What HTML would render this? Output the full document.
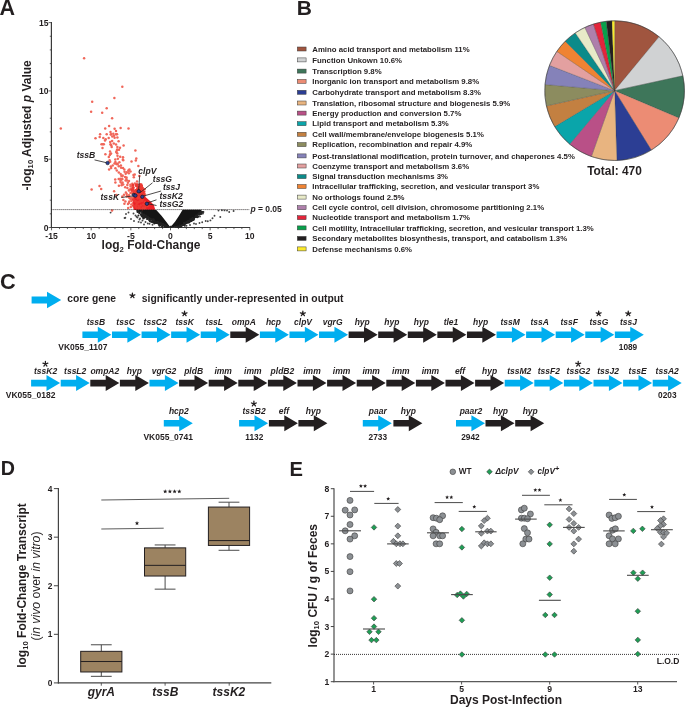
<!DOCTYPE html>
<html><head><meta charset="utf-8"><style>
html,body{margin:0;padding:0;background:#fff;width:685px;height:707px;overflow:hidden}
svg{display:block;will-change:transform}
text{font-family:"Liberation Sans",sans-serif}
</style></head><body>
<svg width="685" height="707" viewBox="0 0 685 707">
<rect width="685" height="707" fill="#fff"/>
<text x="-0.60" y="14.70" font-size="21.5" font-weight="bold" font-style="normal" text-anchor="start" fill="#231f20" >A</text>
<text x="296.80" y="14.60" font-size="21" font-weight="bold" font-style="normal" text-anchor="start" fill="#231f20" >B</text>
<text x="-0.10" y="289.30" font-size="21.8" font-weight="bold" font-style="normal" text-anchor="start" fill="#231f20" >C</text>
<text x="0.80" y="475.40" font-size="19.7" font-weight="bold" font-style="normal" text-anchor="start" fill="#231f20" >D</text>
<text x="289.40" y="475.70" font-size="20.2" font-weight="bold" font-style="normal" text-anchor="start" fill="#231f20" >E</text>
<line x1="51.40" y1="22.10" x2="51.40" y2="228.10" stroke="#3a3a3a" stroke-width="1.2" />
<line x1="50.80" y1="227.50" x2="250.10" y2="227.50" stroke="#3a3a3a" stroke-width="1.2" />
<line x1="48.60" y1="227.50" x2="51.40" y2="227.50" stroke="#3a3a3a" stroke-width="0.8" />
<line x1="49.80" y1="213.84" x2="51.40" y2="213.84" stroke="#3a3a3a" stroke-width="0.8" />
<line x1="49.80" y1="200.18" x2="51.40" y2="200.18" stroke="#3a3a3a" stroke-width="0.8" />
<line x1="49.80" y1="186.52" x2="51.40" y2="186.52" stroke="#3a3a3a" stroke-width="0.8" />
<line x1="49.80" y1="172.86" x2="51.40" y2="172.86" stroke="#3a3a3a" stroke-width="0.8" />
<line x1="48.60" y1="159.20" x2="51.40" y2="159.20" stroke="#3a3a3a" stroke-width="0.8" />
<line x1="49.80" y1="145.54" x2="51.40" y2="145.54" stroke="#3a3a3a" stroke-width="0.8" />
<line x1="49.80" y1="131.88" x2="51.40" y2="131.88" stroke="#3a3a3a" stroke-width="0.8" />
<line x1="49.80" y1="118.22" x2="51.40" y2="118.22" stroke="#3a3a3a" stroke-width="0.8" />
<line x1="49.80" y1="104.56" x2="51.40" y2="104.56" stroke="#3a3a3a" stroke-width="0.8" />
<line x1="48.60" y1="90.90" x2="51.40" y2="90.90" stroke="#3a3a3a" stroke-width="0.8" />
<line x1="49.80" y1="77.24" x2="51.40" y2="77.24" stroke="#3a3a3a" stroke-width="0.8" />
<line x1="49.80" y1="63.58" x2="51.40" y2="63.58" stroke="#3a3a3a" stroke-width="0.8" />
<line x1="49.80" y1="49.92" x2="51.40" y2="49.92" stroke="#3a3a3a" stroke-width="0.8" />
<line x1="49.80" y1="36.26" x2="51.40" y2="36.26" stroke="#3a3a3a" stroke-width="0.8" />
<line x1="48.60" y1="22.60" x2="51.40" y2="22.60" stroke="#3a3a3a" stroke-width="0.8" />
<line x1="51.55" y1="227.50" x2="51.55" y2="230.30" stroke="#3a3a3a" stroke-width="0.8" />
<line x1="59.48" y1="227.50" x2="59.48" y2="229.10" stroke="#3a3a3a" stroke-width="0.8" />
<line x1="67.41" y1="227.50" x2="67.41" y2="229.10" stroke="#3a3a3a" stroke-width="0.8" />
<line x1="75.34" y1="227.50" x2="75.34" y2="229.10" stroke="#3a3a3a" stroke-width="0.8" />
<line x1="83.27" y1="227.50" x2="83.27" y2="229.10" stroke="#3a3a3a" stroke-width="0.8" />
<line x1="91.20" y1="227.50" x2="91.20" y2="230.30" stroke="#3a3a3a" stroke-width="0.8" />
<line x1="99.13" y1="227.50" x2="99.13" y2="229.10" stroke="#3a3a3a" stroke-width="0.8" />
<line x1="107.06" y1="227.50" x2="107.06" y2="229.10" stroke="#3a3a3a" stroke-width="0.8" />
<line x1="114.99" y1="227.50" x2="114.99" y2="229.10" stroke="#3a3a3a" stroke-width="0.8" />
<line x1="122.92" y1="227.50" x2="122.92" y2="229.10" stroke="#3a3a3a" stroke-width="0.8" />
<line x1="130.85" y1="227.50" x2="130.85" y2="230.30" stroke="#3a3a3a" stroke-width="0.8" />
<line x1="138.78" y1="227.50" x2="138.78" y2="229.10" stroke="#3a3a3a" stroke-width="0.8" />
<line x1="146.71" y1="227.50" x2="146.71" y2="229.10" stroke="#3a3a3a" stroke-width="0.8" />
<line x1="154.64" y1="227.50" x2="154.64" y2="229.10" stroke="#3a3a3a" stroke-width="0.8" />
<line x1="162.57" y1="227.50" x2="162.57" y2="229.10" stroke="#3a3a3a" stroke-width="0.8" />
<line x1="170.50" y1="227.50" x2="170.50" y2="230.30" stroke="#3a3a3a" stroke-width="0.8" />
<line x1="178.43" y1="227.50" x2="178.43" y2="229.10" stroke="#3a3a3a" stroke-width="0.8" />
<line x1="186.36" y1="227.50" x2="186.36" y2="229.10" stroke="#3a3a3a" stroke-width="0.8" />
<line x1="194.29" y1="227.50" x2="194.29" y2="229.10" stroke="#3a3a3a" stroke-width="0.8" />
<line x1="202.22" y1="227.50" x2="202.22" y2="229.10" stroke="#3a3a3a" stroke-width="0.8" />
<line x1="210.15" y1="227.50" x2="210.15" y2="230.30" stroke="#3a3a3a" stroke-width="0.8" />
<line x1="218.08" y1="227.50" x2="218.08" y2="229.10" stroke="#3a3a3a" stroke-width="0.8" />
<line x1="226.01" y1="227.50" x2="226.01" y2="229.10" stroke="#3a3a3a" stroke-width="0.8" />
<line x1="233.94" y1="227.50" x2="233.94" y2="229.10" stroke="#3a3a3a" stroke-width="0.8" />
<line x1="241.87" y1="227.50" x2="241.87" y2="229.10" stroke="#3a3a3a" stroke-width="0.8" />
<line x1="249.80" y1="227.50" x2="249.80" y2="230.30" stroke="#3a3a3a" stroke-width="0.8" />
<text x="48.50" y="230.50" font-size="8.6" font-weight="bold" font-style="normal" text-anchor="end" fill="#231f20" >0</text>
<text x="48.50" y="162.20" font-size="8.6" font-weight="bold" font-style="normal" text-anchor="end" fill="#231f20" >5</text>
<text x="48.50" y="93.90" font-size="8.6" font-weight="bold" font-style="normal" text-anchor="end" fill="#231f20" >10</text>
<text x="48.50" y="25.60" font-size="8.6" font-weight="bold" font-style="normal" text-anchor="end" fill="#231f20" >15</text>
<text x="51.55" y="238.80" font-size="8.6" font-weight="bold" font-style="normal" text-anchor="middle" fill="#231f20" >-15</text>
<text x="91.20" y="238.80" font-size="8.6" font-weight="bold" font-style="normal" text-anchor="middle" fill="#231f20" >10</text>
<text x="130.85" y="238.80" font-size="8.6" font-weight="bold" font-style="normal" text-anchor="middle" fill="#231f20" >-5</text>
<text x="170.50" y="238.80" font-size="8.6" font-weight="bold" font-style="normal" text-anchor="middle" fill="#231f20" >0</text>
<text x="210.15" y="238.80" font-size="8.6" font-weight="bold" font-style="normal" text-anchor="middle" fill="#231f20" >5</text>
<text x="249.80" y="238.80" font-size="8.6" font-weight="bold" font-style="normal" text-anchor="middle" fill="#231f20" >10</text>
<text x="101.6" y="249.1" font-size="12" font-weight="bold" fill="#231f20">log<tspan font-size="7.7" dy="2.6">2</tspan><tspan dy="-2.6"> Fold-Change</tspan></text>
<text transform="translate(30.8,190.4) rotate(-90)" x="0" y="0" font-size="12" font-weight="bold" fill="#231f20">-log<tspan font-size="7.7" dy="2.6">10</tspan><tspan dy="-2.6"> Adjusted </tspan><tspan font-style="italic">p</tspan> Value</text>
<text x="250.4" y="211.8" font-size="8.5" font-weight="bold" fill="#231f20"><tspan font-style="italic">p</tspan> = 0.05</text>
<rect x="297.3" y="47.00" width="8.8" height="4" fill="#a0553f" stroke="#3a3a3a" stroke-width="0.5"/>
<text x="312.30" y="51.70" font-size="7.8" font-weight="bold" font-style="normal" text-anchor="start" fill="#231f20" >Amino acid transport and metabolism 11%</text>
<rect x="297.3" y="57.90" width="8.8" height="4" fill="#d0d2d3" stroke="#3a3a3a" stroke-width="0.5"/>
<text x="312.30" y="62.60" font-size="7.8" font-weight="bold" font-style="normal" text-anchor="start" fill="#231f20" >Function Unkown 10.6%</text>
<rect x="297.3" y="69.10" width="8.8" height="4" fill="#3e765a" stroke="#3a3a3a" stroke-width="0.5"/>
<text x="312.30" y="73.80" font-size="7.8" font-weight="bold" font-style="normal" text-anchor="start" fill="#231f20" >Transcription 9.8%</text>
<rect x="297.3" y="79.40" width="8.8" height="4" fill="#ec8c74" stroke="#3a3a3a" stroke-width="0.5"/>
<text x="312.30" y="84.10" font-size="7.8" font-weight="bold" font-style="normal" text-anchor="start" fill="#231f20" >Inorganic ion transport and metabolism 9.8%</text>
<rect x="297.3" y="90.30" width="8.8" height="4" fill="#2c3e94" stroke="#3a3a3a" stroke-width="0.5"/>
<text x="312.30" y="95.00" font-size="7.8" font-weight="bold" font-style="normal" text-anchor="start" fill="#231f20" >Carbohydrate transport and metabolism 8.3%</text>
<rect x="297.3" y="101.00" width="8.8" height="4" fill="#e8b480" stroke="#3a3a3a" stroke-width="0.5"/>
<text x="312.30" y="105.70" font-size="7.8" font-weight="bold" font-style="normal" text-anchor="start" fill="#231f20" >Translation, ribosomal structure and biogenesis 5.9%</text>
<rect x="297.3" y="111.10" width="8.8" height="4" fill="#b95087" stroke="#3a3a3a" stroke-width="0.5"/>
<text x="312.30" y="115.80" font-size="7.8" font-weight="bold" font-style="normal" text-anchor="start" fill="#231f20" >Energy production and conversion 5.7%</text>
<rect x="297.3" y="121.70" width="8.8" height="4" fill="#0aa5aa" stroke="#3a3a3a" stroke-width="0.5"/>
<text x="312.30" y="126.40" font-size="7.8" font-weight="bold" font-style="normal" text-anchor="start" fill="#231f20" >Lipid transport and metabolism 5.3%</text>
<rect x="297.3" y="132.30" width="8.8" height="4" fill="#c38041" stroke="#3a3a3a" stroke-width="0.5"/>
<text x="312.30" y="137.00" font-size="7.8" font-weight="bold" font-style="normal" text-anchor="start" fill="#231f20" >Cell wall/membrane/envelope biogenesis 5.1%</text>
<rect x="297.3" y="142.60" width="8.8" height="4" fill="#8c8c5f" stroke="#3a3a3a" stroke-width="0.5"/>
<text x="312.30" y="147.30" font-size="7.8" font-weight="bold" font-style="normal" text-anchor="start" fill="#231f20" >Replication, recombination and repair 4.9%</text>
<rect x="297.3" y="153.90" width="8.8" height="4" fill="#8582b9" stroke="#3a3a3a" stroke-width="0.5"/>
<text x="312.30" y="158.60" font-size="7.8" font-weight="bold" font-style="normal" text-anchor="start" fill="#231f20" >Post-translational modification, protein turnover, and chaperones 4.5%</text>
<rect x="297.3" y="164.00" width="8.8" height="4" fill="#e3a0a0" stroke="#3a3a3a" stroke-width="0.5"/>
<text x="312.30" y="168.70" font-size="7.8" font-weight="bold" font-style="normal" text-anchor="start" fill="#231f20" >Coenzyme transport and metabolism 3.6%</text>
<rect x="297.3" y="174.60" width="8.8" height="4" fill="#0b8b8a" stroke="#3a3a3a" stroke-width="0.5"/>
<text x="312.30" y="179.30" font-size="7.8" font-weight="bold" font-style="normal" text-anchor="start" fill="#231f20" >Signal transduction mechanisms 3%</text>
<rect x="297.3" y="184.50" width="8.8" height="4" fill="#ef8333" stroke="#3a3a3a" stroke-width="0.5"/>
<text x="312.30" y="189.20" font-size="7.8" font-weight="bold" font-style="normal" text-anchor="start" fill="#231f20" >Intracellular trafficking, secretion, and vesicular transport 3%</text>
<rect x="297.3" y="195.10" width="8.8" height="4" fill="#e8eac8" stroke="#3a3a3a" stroke-width="0.5"/>
<text x="312.30" y="199.80" font-size="7.8" font-weight="bold" font-style="normal" text-anchor="start" fill="#231f20" >No orthologs found 2.5%</text>
<rect x="297.3" y="205.70" width="8.8" height="4" fill="#ae7fab" stroke="#3a3a3a" stroke-width="0.5"/>
<text x="312.30" y="210.40" font-size="7.8" font-weight="bold" font-style="normal" text-anchor="start" fill="#231f20" >Cell cycle control, cell division, chromosome partitioning 2.1%</text>
<rect x="297.3" y="215.70" width="8.8" height="4" fill="#e3243b" stroke="#3a3a3a" stroke-width="0.5"/>
<text x="312.30" y="220.40" font-size="7.8" font-weight="bold" font-style="normal" text-anchor="start" fill="#231f20" >Nucleotide transport and metabolism 1.7%</text>
<rect x="297.3" y="225.90" width="8.8" height="4" fill="#08a04b" stroke="#3a3a3a" stroke-width="0.5"/>
<text x="312.30" y="230.60" font-size="7.8" font-weight="bold" font-style="normal" text-anchor="start" fill="#231f20" >Cell motility, Intracellular trafficking, secretion, and vesicular transport 1.3%</text>
<rect x="297.3" y="236.40" width="8.8" height="4" fill="#231f20" stroke="#3a3a3a" stroke-width="0.5"/>
<text x="312.30" y="241.10" font-size="7.8" font-weight="bold" font-style="normal" text-anchor="start" fill="#231f20" >Secondary metabolites biosynthesis, transport, and catabolism 1.3%</text>
<rect x="297.3" y="246.90" width="8.8" height="4" fill="#fbe92a" stroke="#3a3a3a" stroke-width="0.5"/>
<text x="312.30" y="251.60" font-size="7.8" font-weight="bold" font-style="normal" text-anchor="start" fill="#231f20" >Defense mechanisms 0.6%</text>
<path d="M614.6,90.65 L614.60,20.80 A69.85,69.85 0 0 1 659.12,36.83 Z" fill="#a0553f" stroke="#3a3a3a" stroke-width="0.25"/>
<path d="M614.6,90.65 L659.12,36.83 A69.85,69.85 0 0 1 682.86,75.84 Z" fill="#d0d2d3" stroke="#3a3a3a" stroke-width="0.25"/>
<path d="M614.6,90.65 L682.86,75.84 A69.85,69.85 0 0 1 678.88,117.99 Z" fill="#3e765a" stroke="#3a3a3a" stroke-width="0.25"/>
<path d="M614.6,90.65 L678.88,117.99 A69.85,69.85 0 0 1 651.28,150.09 Z" fill="#ec8c74" stroke="#3a3a3a" stroke-width="0.25"/>
<path d="M614.6,90.65 L651.28,150.09 A69.85,69.85 0 0 1 616.79,160.47 Z" fill="#2c3e94" stroke="#3a3a3a" stroke-width="0.25"/>
<path d="M614.6,90.65 L616.79,160.47 A69.85,69.85 0 0 1 591.35,156.52 Z" fill="#e8b480" stroke="#3a3a3a" stroke-width="0.25"/>
<path d="M614.6,90.65 L591.35,156.52 A69.85,69.85 0 0 1 569.74,144.19 Z" fill="#b95087" stroke="#3a3a3a" stroke-width="0.25"/>
<path d="M614.6,90.65 L569.74,144.19 A69.85,69.85 0 0 1 554.70,126.58 Z" fill="#0aa5aa" stroke="#3a3a3a" stroke-width="0.25"/>
<path d="M614.6,90.65 L554.70,126.58 A69.85,69.85 0 0 1 546.43,105.89 Z" fill="#c38041" stroke="#3a3a3a" stroke-width="0.25"/>
<path d="M614.6,90.65 L546.43,105.89 A69.85,69.85 0 0 1 545.02,84.51 Z" fill="#8c8c5f" stroke="#3a3a3a" stroke-width="0.25"/>
<path d="M614.6,90.65 L545.02,84.51 A69.85,69.85 0 0 1 549.49,65.35 Z" fill="#8582b9" stroke="#3a3a3a" stroke-width="0.25"/>
<path d="M614.6,90.65 L549.49,65.35 A69.85,69.85 0 0 1 556.83,51.39 Z" fill="#e3a0a0" stroke="#3a3a3a" stroke-width="0.25"/>
<path d="M614.6,90.65 L556.83,51.39 A69.85,69.85 0 0 1 565.21,41.26 Z" fill="#ef8333" stroke="#3a3a3a" stroke-width="0.25"/>
<path d="M614.6,90.65 L565.21,41.26 A69.85,69.85 0 0 1 575.34,32.88 Z" fill="#0b8b8a" stroke="#3a3a3a" stroke-width="0.25"/>
<path d="M614.6,90.65 L575.34,32.88 A69.85,69.85 0 0 1 584.86,27.45 Z" fill="#e8eac8" stroke="#3a3a3a" stroke-width="0.25"/>
<path d="M614.6,90.65 L584.86,27.45 A69.85,69.85 0 0 1 593.43,24.08 Z" fill="#ae7fab" stroke="#3a3a3a" stroke-width="0.25"/>
<path d="M614.6,90.65 L593.43,24.08 A69.85,69.85 0 0 1 600.65,22.21 Z" fill="#e3243b" stroke="#3a3a3a" stroke-width="0.25"/>
<path d="M614.6,90.65 L600.65,22.21 A69.85,69.85 0 0 1 606.28,21.30 Z" fill="#08a04b" stroke="#3a3a3a" stroke-width="0.25"/>
<path d="M614.6,90.65 L606.28,21.30 A69.85,69.85 0 0 1 611.97,20.85 Z" fill="#231f20" stroke="#3a3a3a" stroke-width="0.25"/>
<path d="M614.6,90.65 L611.97,20.85 A69.85,69.85 0 0 1 614.60,20.80 Z" fill="#fbe92a" stroke="#3a3a3a" stroke-width="0.25"/>
<circle cx="614.6" cy="90.65" r="69.85" fill="none" stroke="#3a3a3a" stroke-width="0.6"/>
<text x="614.50" y="174.60" font-size="11.9" font-weight="bold" font-style="normal" text-anchor="middle" fill="#231f20" >Total: 470</text>
<path d="M31.60,296.50 L47.00,296.50 L47.00,291.80 L61.20,300.00 L47.00,308.20 L47.00,303.50 L31.60,303.50 Z" fill="#00aeef"/>
<text x="67.30" y="301.80" font-size="10.3" font-weight="bold" font-style="normal" text-anchor="start" fill="#231f20" >core gene</text>
<path d="M132.40,295.60 L132.40,293.00 M132.40,295.60 L134.87,294.80 M132.40,295.60 L133.93,297.70 M132.40,295.60 L130.87,297.70 M132.40,295.60 L129.93,294.80 " stroke="#231f20" stroke-width="1.25" stroke-linecap="round" fill="none"/>
<text x="141.80" y="301.80" font-size="10.35" font-weight="bold" font-style="normal" text-anchor="start" fill="#231f20" >significantly under-represented in output</text>
<path d="M82.40,331.40 L97.80,331.40 L97.80,326.70 L111.40,334.70 L97.80,342.70 L97.80,338.00 L82.40,338.00 Z" fill="#00aeef"/>
<text x="96.00" y="324.70" font-size="8.5" font-weight="bold" font-style="italic" text-anchor="middle" fill="#231f20">tssB</text>
<path d="M111.98,331.40 L127.38,331.40 L127.38,326.70 L140.98,334.70 L127.38,342.70 L127.38,338.00 L111.98,338.00 Z" fill="#00aeef"/>
<text x="125.58" y="324.70" font-size="8.5" font-weight="bold" font-style="italic" text-anchor="middle" fill="#231f20">tssC</text>
<path d="M141.56,331.40 L156.96,331.40 L156.96,326.70 L170.56,334.70 L156.96,342.70 L156.96,338.00 L141.56,338.00 Z" fill="#00aeef"/>
<text x="155.16" y="324.70" font-size="8.5" font-weight="bold" font-style="italic" text-anchor="middle" fill="#231f20">tssC2</text>
<path d="M171.14,331.40 L186.54,331.40 L186.54,326.70 L200.14,334.70 L186.54,342.70 L186.54,338.00 L171.14,338.00 Z" fill="#00aeef"/>
<text x="184.74" y="324.70" font-size="8.5" font-weight="bold" font-style="italic" text-anchor="middle" fill="#231f20">tssK</text>
<path d="M184.54,313.60 L184.54,311.00 M184.54,313.60 L187.01,312.80 M184.54,313.60 L186.07,315.70 M184.54,313.60 L183.01,315.70 M184.54,313.60 L182.07,312.80 " stroke="#231f20" stroke-width="1.25" stroke-linecap="round" fill="none"/>
<path d="M200.72,331.40 L216.12,331.40 L216.12,326.70 L229.72,334.70 L216.12,342.70 L216.12,338.00 L200.72,338.00 Z" fill="#00aeef"/>
<text x="214.32" y="324.70" font-size="8.5" font-weight="bold" font-style="italic" text-anchor="middle" fill="#231f20">tssL</text>
<path d="M230.30,331.40 L245.70,331.40 L245.70,326.70 L259.30,334.70 L245.70,342.70 L245.70,338.00 L230.30,338.00 Z" fill="#231f20"/>
<text x="243.90" y="324.70" font-size="8.5" font-weight="bold" font-style="italic" text-anchor="middle" fill="#231f20">ompA</text>
<path d="M259.88,331.40 L275.28,331.40 L275.28,326.70 L288.88,334.70 L275.28,342.70 L275.28,338.00 L259.88,338.00 Z" fill="#00aeef"/>
<text x="273.48" y="324.70" font-size="8.5" font-weight="bold" font-style="italic" text-anchor="middle" fill="#231f20">hcp</text>
<path d="M289.46,331.40 L304.86,331.40 L304.86,326.70 L318.46,334.70 L304.86,342.70 L304.86,338.00 L289.46,338.00 Z" fill="#00aeef"/>
<text x="303.06" y="324.70" font-size="8.5" font-weight="bold" font-style="italic" text-anchor="middle" fill="#231f20">clpV</text>
<path d="M302.86,313.60 L302.86,311.00 M302.86,313.60 L305.33,312.80 M302.86,313.60 L304.39,315.70 M302.86,313.60 L301.33,315.70 M302.86,313.60 L300.39,312.80 " stroke="#231f20" stroke-width="1.25" stroke-linecap="round" fill="none"/>
<path d="M319.04,331.40 L334.44,331.40 L334.44,326.70 L348.04,334.70 L334.44,342.70 L334.44,338.00 L319.04,338.00 Z" fill="#00aeef"/>
<text x="332.64" y="324.70" font-size="8.5" font-weight="bold" font-style="italic" text-anchor="middle" fill="#231f20">vgrG</text>
<path d="M348.62,331.40 L364.02,331.40 L364.02,326.70 L377.62,334.70 L364.02,342.70 L364.02,338.00 L348.62,338.00 Z" fill="#231f20"/>
<text x="362.22" y="324.70" font-size="8.5" font-weight="bold" font-style="italic" text-anchor="middle" fill="#231f20">hyp</text>
<path d="M378.20,331.40 L393.60,331.40 L393.60,326.70 L407.20,334.70 L393.60,342.70 L393.60,338.00 L378.20,338.00 Z" fill="#231f20"/>
<text x="391.80" y="324.70" font-size="8.5" font-weight="bold" font-style="italic" text-anchor="middle" fill="#231f20">hyp</text>
<path d="M407.78,331.40 L423.18,331.40 L423.18,326.70 L436.78,334.70 L423.18,342.70 L423.18,338.00 L407.78,338.00 Z" fill="#231f20"/>
<text x="421.38" y="324.70" font-size="8.5" font-weight="bold" font-style="italic" text-anchor="middle" fill="#231f20">hyp</text>
<path d="M437.36,331.40 L452.76,331.40 L452.76,326.70 L466.36,334.70 L452.76,342.70 L452.76,338.00 L437.36,338.00 Z" fill="#231f20"/>
<text x="450.96" y="324.70" font-size="8.5" font-weight="bold" font-style="italic" text-anchor="middle" fill="#231f20">tle1</text>
<path d="M466.94,331.40 L482.34,331.40 L482.34,326.70 L495.94,334.70 L482.34,342.70 L482.34,338.00 L466.94,338.00 Z" fill="#231f20"/>
<text x="480.54" y="324.70" font-size="8.5" font-weight="bold" font-style="italic" text-anchor="middle" fill="#231f20">hyp</text>
<path d="M496.52,331.40 L511.92,331.40 L511.92,326.70 L525.52,334.70 L511.92,342.70 L511.92,338.00 L496.52,338.00 Z" fill="#00aeef"/>
<text x="510.12" y="324.70" font-size="8.5" font-weight="bold" font-style="italic" text-anchor="middle" fill="#231f20">tssM</text>
<path d="M526.10,331.40 L541.50,331.40 L541.50,326.70 L555.10,334.70 L541.50,342.70 L541.50,338.00 L526.10,338.00 Z" fill="#00aeef"/>
<text x="539.70" y="324.70" font-size="8.5" font-weight="bold" font-style="italic" text-anchor="middle" fill="#231f20">tssA</text>
<path d="M555.68,331.40 L571.08,331.40 L571.08,326.70 L584.68,334.70 L571.08,342.70 L571.08,338.00 L555.68,338.00 Z" fill="#00aeef"/>
<text x="569.28" y="324.70" font-size="8.5" font-weight="bold" font-style="italic" text-anchor="middle" fill="#231f20">tssF</text>
<path d="M585.26,331.40 L600.66,331.40 L600.66,326.70 L614.26,334.70 L600.66,342.70 L600.66,338.00 L585.26,338.00 Z" fill="#00aeef"/>
<text x="598.86" y="324.70" font-size="8.5" font-weight="bold" font-style="italic" text-anchor="middle" fill="#231f20">tssG</text>
<path d="M598.66,313.60 L598.66,311.00 M598.66,313.60 L601.13,312.80 M598.66,313.60 L600.19,315.70 M598.66,313.60 L597.13,315.70 M598.66,313.60 L596.19,312.80 " stroke="#231f20" stroke-width="1.25" stroke-linecap="round" fill="none"/>
<path d="M614.84,331.40 L630.24,331.40 L630.24,326.70 L643.84,334.70 L630.24,342.70 L630.24,338.00 L614.84,338.00 Z" fill="#00aeef"/>
<text x="628.44" y="324.70" font-size="8.5" font-weight="bold" font-style="italic" text-anchor="middle" fill="#231f20">tssJ</text>
<path d="M628.24,313.60 L628.24,311.00 M628.24,313.60 L630.71,312.80 M628.24,313.60 L629.77,315.70 M628.24,313.60 L626.71,315.70 M628.24,313.60 L625.77,312.80 " stroke="#231f20" stroke-width="1.25" stroke-linecap="round" fill="none"/>
<text x="58.30" y="349.90" font-size="8.5" font-weight="bold" font-style="normal" text-anchor="start" fill="#231f20" >VK055_1107</text>
<text x="628.00" y="349.70" font-size="8.3" font-weight="bold" font-style="normal" text-anchor="middle" fill="#231f20" >1089</text>
<path d="M31.10,379.80 L46.50,379.80 L46.50,375.10 L60.10,383.10 L46.50,391.10 L46.50,386.40 L31.10,386.40 Z" fill="#00aeef"/>
<text x="45.60" y="373.80" font-size="8.5" font-weight="bold" font-style="italic" text-anchor="middle" fill="#231f20">tssK2</text>
<path d="M45.40,364.00 L45.40,361.40 M45.40,364.00 L47.87,363.20 M45.40,364.00 L46.93,366.10 M45.40,364.00 L43.87,366.10 M45.40,364.00 L42.93,363.20 " stroke="#231f20" stroke-width="1.25" stroke-linecap="round" fill="none"/>
<path d="M60.70,379.80 L76.10,379.80 L76.10,375.10 L89.70,383.10 L76.10,391.10 L76.10,386.40 L60.70,386.40 Z" fill="#00aeef"/>
<text x="75.20" y="373.80" font-size="8.5" font-weight="bold" font-style="italic" text-anchor="middle" fill="#231f20">tssL2</text>
<path d="M90.30,379.80 L105.70,379.80 L105.70,375.10 L119.30,383.10 L105.70,391.10 L105.70,386.40 L90.30,386.40 Z" fill="#231f20"/>
<text x="104.80" y="373.80" font-size="8.5" font-weight="bold" font-style="italic" text-anchor="middle" fill="#231f20">ompA2</text>
<path d="M119.90,379.80 L135.30,379.80 L135.30,375.10 L148.90,383.10 L135.30,391.10 L135.30,386.40 L119.90,386.40 Z" fill="#231f20"/>
<text x="134.40" y="373.80" font-size="8.5" font-weight="bold" font-style="italic" text-anchor="middle" fill="#231f20">hyp</text>
<path d="M149.50,379.80 L164.90,379.80 L164.90,375.10 L178.50,383.10 L164.90,391.10 L164.90,386.40 L149.50,386.40 Z" fill="#00aeef"/>
<text x="164.00" y="373.80" font-size="8.5" font-weight="bold" font-style="italic" text-anchor="middle" fill="#231f20">vgrG2</text>
<path d="M179.10,379.80 L194.50,379.80 L194.50,375.10 L208.10,383.10 L194.50,391.10 L194.50,386.40 L179.10,386.40 Z" fill="#231f20"/>
<text x="193.60" y="373.80" font-size="8.5" font-weight="bold" font-style="italic" text-anchor="middle" fill="#231f20">pldB</text>
<path d="M208.70,379.80 L224.10,379.80 L224.10,375.10 L237.70,383.10 L224.10,391.10 L224.10,386.40 L208.70,386.40 Z" fill="#231f20"/>
<text x="223.20" y="373.80" font-size="8.5" font-weight="bold" font-style="italic" text-anchor="middle" fill="#231f20">imm</text>
<path d="M238.30,379.80 L253.70,379.80 L253.70,375.10 L267.30,383.10 L253.70,391.10 L253.70,386.40 L238.30,386.40 Z" fill="#231f20"/>
<text x="252.80" y="373.80" font-size="8.5" font-weight="bold" font-style="italic" text-anchor="middle" fill="#231f20">imm</text>
<path d="M267.90,379.80 L283.30,379.80 L283.30,375.10 L296.90,383.10 L283.30,391.10 L283.30,386.40 L267.90,386.40 Z" fill="#231f20"/>
<text x="282.40" y="373.80" font-size="8.5" font-weight="bold" font-style="italic" text-anchor="middle" fill="#231f20">pldB2</text>
<path d="M297.50,379.80 L312.90,379.80 L312.90,375.10 L326.50,383.10 L312.90,391.10 L312.90,386.40 L297.50,386.40 Z" fill="#231f20"/>
<text x="312.00" y="373.80" font-size="8.5" font-weight="bold" font-style="italic" text-anchor="middle" fill="#231f20">imm</text>
<path d="M327.10,379.80 L342.50,379.80 L342.50,375.10 L356.10,383.10 L342.50,391.10 L342.50,386.40 L327.10,386.40 Z" fill="#231f20"/>
<text x="341.60" y="373.80" font-size="8.5" font-weight="bold" font-style="italic" text-anchor="middle" fill="#231f20">imm</text>
<path d="M356.70,379.80 L372.10,379.80 L372.10,375.10 L385.70,383.10 L372.10,391.10 L372.10,386.40 L356.70,386.40 Z" fill="#231f20"/>
<text x="371.20" y="373.80" font-size="8.5" font-weight="bold" font-style="italic" text-anchor="middle" fill="#231f20">imm</text>
<path d="M386.30,379.80 L401.70,379.80 L401.70,375.10 L415.30,383.10 L401.70,391.10 L401.70,386.40 L386.30,386.40 Z" fill="#231f20"/>
<text x="400.80" y="373.80" font-size="8.5" font-weight="bold" font-style="italic" text-anchor="middle" fill="#231f20">imm</text>
<path d="M415.90,379.80 L431.30,379.80 L431.30,375.10 L444.90,383.10 L431.30,391.10 L431.30,386.40 L415.90,386.40 Z" fill="#231f20"/>
<text x="430.40" y="373.80" font-size="8.5" font-weight="bold" font-style="italic" text-anchor="middle" fill="#231f20">imm</text>
<path d="M445.50,379.80 L460.90,379.80 L460.90,375.10 L474.50,383.10 L460.90,391.10 L460.90,386.40 L445.50,386.40 Z" fill="#231f20"/>
<text x="460.00" y="373.80" font-size="8.5" font-weight="bold" font-style="italic" text-anchor="middle" fill="#231f20">eff</text>
<path d="M475.10,379.80 L490.50,379.80 L490.50,375.10 L504.10,383.10 L490.50,391.10 L490.50,386.40 L475.10,386.40 Z" fill="#231f20"/>
<text x="489.60" y="373.80" font-size="8.5" font-weight="bold" font-style="italic" text-anchor="middle" fill="#231f20">hyp</text>
<path d="M504.70,379.80 L520.10,379.80 L520.10,375.10 L533.70,383.10 L520.10,391.10 L520.10,386.40 L504.70,386.40 Z" fill="#00aeef"/>
<text x="519.20" y="373.80" font-size="8.5" font-weight="bold" font-style="italic" text-anchor="middle" fill="#231f20">tssM2</text>
<path d="M534.30,379.80 L549.70,379.80 L549.70,375.10 L563.30,383.10 L549.70,391.10 L549.70,386.40 L534.30,386.40 Z" fill="#00aeef"/>
<text x="548.80" y="373.80" font-size="8.5" font-weight="bold" font-style="italic" text-anchor="middle" fill="#231f20">tssF2</text>
<path d="M563.90,379.80 L579.30,379.80 L579.30,375.10 L592.90,383.10 L579.30,391.10 L579.30,386.40 L563.90,386.40 Z" fill="#00aeef"/>
<text x="578.40" y="373.80" font-size="8.5" font-weight="bold" font-style="italic" text-anchor="middle" fill="#231f20">tssG2</text>
<path d="M578.20,364.00 L578.20,361.40 M578.20,364.00 L580.67,363.20 M578.20,364.00 L579.73,366.10 M578.20,364.00 L576.67,366.10 M578.20,364.00 L575.73,363.20 " stroke="#231f20" stroke-width="1.25" stroke-linecap="round" fill="none"/>
<path d="M593.50,379.80 L608.90,379.80 L608.90,375.10 L622.50,383.10 L608.90,391.10 L608.90,386.40 L593.50,386.40 Z" fill="#00aeef"/>
<text x="608.00" y="373.80" font-size="8.5" font-weight="bold" font-style="italic" text-anchor="middle" fill="#231f20">tssJ2</text>
<path d="M623.10,379.80 L638.50,379.80 L638.50,375.10 L652.10,383.10 L638.50,391.10 L638.50,386.40 L623.10,386.40 Z" fill="#00aeef"/>
<text x="637.60" y="373.80" font-size="8.5" font-weight="bold" font-style="italic" text-anchor="middle" fill="#231f20">tssE</text>
<path d="M652.70,379.80 L668.10,379.80 L668.10,375.10 L681.70,383.10 L668.10,391.10 L668.10,386.40 L652.70,386.40 Z" fill="#00aeef"/>
<text x="667.20" y="373.80" font-size="8.5" font-weight="bold" font-style="italic" text-anchor="middle" fill="#231f20">tssA2</text>
<text x="5.80" y="398.20" font-size="8.5" font-weight="bold" font-style="normal" text-anchor="start" fill="#231f20" >VK055_0182</text>
<text x="667.30" y="398.20" font-size="8.3" font-weight="bold" font-style="normal" text-anchor="middle" fill="#231f20" >0203</text>
<path d="M163.80,420.00 L179.20,420.00 L179.20,415.30 L192.80,423.30 L179.20,431.30 L179.20,426.60 L163.80,426.60 Z" fill="#00aeef"/>
<text x="178.80" y="414.00" font-size="8.5" font-weight="bold" font-style="italic" text-anchor="middle" fill="#231f20">hcp2</text>
<path d="M239.10,420.00 L254.50,420.00 L254.50,415.30 L268.10,423.30 L254.50,431.30 L254.50,426.60 L239.10,426.60 Z" fill="#00aeef"/>
<text x="254.10" y="414.00" font-size="8.5" font-weight="bold" font-style="italic" text-anchor="middle" fill="#231f20">tssB2</text>
<path d="M253.90,403.80 L253.90,401.20 M253.90,403.80 L256.37,403.00 M253.90,403.80 L255.43,405.90 M253.90,403.80 L252.37,405.90 M253.90,403.80 L251.43,403.00 " stroke="#231f20" stroke-width="1.25" stroke-linecap="round" fill="none"/>
<path d="M268.90,420.00 L284.30,420.00 L284.30,415.30 L297.90,423.30 L284.30,431.30 L284.30,426.60 L268.90,426.60 Z" fill="#231f20"/>
<text x="283.90" y="414.00" font-size="8.5" font-weight="bold" font-style="italic" text-anchor="middle" fill="#231f20">eff</text>
<path d="M298.40,420.00 L313.80,420.00 L313.80,415.30 L327.40,423.30 L313.80,431.30 L313.80,426.60 L298.40,426.60 Z" fill="#231f20"/>
<text x="313.40" y="414.00" font-size="8.5" font-weight="bold" font-style="italic" text-anchor="middle" fill="#231f20">hyp</text>
<path d="M362.80,420.00 L378.20,420.00 L378.20,415.30 L391.80,423.30 L378.20,431.30 L378.20,426.60 L362.80,426.60 Z" fill="#00aeef"/>
<text x="377.80" y="414.00" font-size="8.5" font-weight="bold" font-style="italic" text-anchor="middle" fill="#231f20">paar</text>
<path d="M393.40,420.00 L408.80,420.00 L408.80,415.30 L422.40,423.30 L408.80,431.30 L408.80,426.60 L393.40,426.60 Z" fill="#231f20"/>
<text x="408.40" y="414.00" font-size="8.5" font-weight="bold" font-style="italic" text-anchor="middle" fill="#231f20">hyp</text>
<path d="M456.00,420.00 L471.40,420.00 L471.40,415.30 L485.00,423.30 L471.40,431.30 L471.40,426.60 L456.00,426.60 Z" fill="#00aeef"/>
<text x="471.00" y="414.00" font-size="8.5" font-weight="bold" font-style="italic" text-anchor="middle" fill="#231f20">paar2</text>
<path d="M485.50,420.00 L500.90,420.00 L500.90,415.30 L514.50,423.30 L500.90,431.30 L500.90,426.60 L485.50,426.60 Z" fill="#231f20"/>
<text x="500.50" y="414.00" font-size="8.5" font-weight="bold" font-style="italic" text-anchor="middle" fill="#231f20">hyp</text>
<path d="M515.20,420.00 L530.60,420.00 L530.60,415.30 L544.20,423.30 L530.60,431.30 L530.60,426.60 L515.20,426.60 Z" fill="#231f20"/>
<text x="530.20" y="414.00" font-size="8.5" font-weight="bold" font-style="italic" text-anchor="middle" fill="#231f20">hyp</text>
<text x="143.40" y="439.70" font-size="8.5" font-weight="bold" font-style="normal" text-anchor="start" fill="#231f20" >VK055_0741</text>
<text x="254.30" y="439.70" font-size="8.3" font-weight="bold" font-style="normal" text-anchor="middle" fill="#231f20" >1132</text>
<text x="377.80" y="439.70" font-size="8.3" font-weight="bold" font-style="normal" text-anchor="middle" fill="#231f20" >2733</text>
<text x="470.40" y="439.70" font-size="8.3" font-weight="bold" font-style="normal" text-anchor="middle" fill="#231f20" >2942</text>
<line x1="58.40" y1="488.10" x2="58.40" y2="683.40" stroke="#444" stroke-width="1.2" />
<line x1="57.90" y1="682.90" x2="271.30" y2="682.90" stroke="#444" stroke-width="1.2" />
<line x1="53.90" y1="682.90" x2="58.40" y2="682.90" stroke="#444" stroke-width="1.0" />
<text x="52.30" y="685.80" font-size="8.4" font-weight="bold" font-style="normal" text-anchor="end" fill="#231f20" >0</text>
<line x1="53.90" y1="634.32" x2="58.40" y2="634.32" stroke="#444" stroke-width="1.0" />
<text x="52.30" y="637.22" font-size="8.4" font-weight="bold" font-style="normal" text-anchor="end" fill="#231f20" >1</text>
<line x1="53.90" y1="585.75" x2="58.40" y2="585.75" stroke="#444" stroke-width="1.0" />
<text x="52.30" y="588.65" font-size="8.4" font-weight="bold" font-style="normal" text-anchor="end" fill="#231f20" >2</text>
<line x1="53.90" y1="537.17" x2="58.40" y2="537.17" stroke="#444" stroke-width="1.0" />
<text x="52.30" y="540.07" font-size="8.4" font-weight="bold" font-style="normal" text-anchor="end" fill="#231f20" >3</text>
<line x1="53.90" y1="488.60" x2="58.40" y2="488.60" stroke="#444" stroke-width="1.0" />
<text x="52.30" y="491.50" font-size="8.4" font-weight="bold" font-style="normal" text-anchor="end" fill="#231f20" >4</text>
<line x1="101.30" y1="682.90" x2="101.30" y2="685.70" stroke="#3a3a3a" stroke-width="0.8" />
<line x1="165.10" y1="682.90" x2="165.10" y2="685.70" stroke="#3a3a3a" stroke-width="0.8" />
<line x1="229.20" y1="682.90" x2="229.20" y2="685.70" stroke="#3a3a3a" stroke-width="0.8" />
<line x1="101.30" y1="644.77" x2="101.30" y2="651.33" stroke="#4a4a4a" stroke-width="1" />
<line x1="101.30" y1="671.97" x2="101.30" y2="676.34" stroke="#4a4a4a" stroke-width="1" />
<line x1="90.90" y1="644.77" x2="111.70" y2="644.77" stroke="#4a4a4a" stroke-width="1" />
<line x1="90.90" y1="676.34" x2="111.70" y2="676.34" stroke="#4a4a4a" stroke-width="1" />
<rect x="80.70" y="651.33" width="41.2" height="20.64" fill="#9c8361" stroke="#231f20" stroke-width="1"/>
<line x1="80.70" y1="661.53" x2="121.90" y2="661.53" stroke="#231f20" stroke-width="1" />
<line x1="165.10" y1="544.95" x2="165.10" y2="547.86" stroke="#4a4a4a" stroke-width="1" />
<line x1="165.10" y1="576.03" x2="165.10" y2="589.15" stroke="#4a4a4a" stroke-width="1" />
<line x1="154.70" y1="544.95" x2="175.50" y2="544.95" stroke="#4a4a4a" stroke-width="1" />
<line x1="154.70" y1="589.15" x2="175.50" y2="589.15" stroke="#4a4a4a" stroke-width="1" />
<rect x="144.50" y="547.86" width="41.2" height="28.17" fill="#9c8361" stroke="#231f20" stroke-width="1"/>
<line x1="144.50" y1="565.35" x2="185.70" y2="565.35" stroke="#231f20" stroke-width="1" />
<line x1="229.00" y1="502.20" x2="229.00" y2="507.06" stroke="#4a4a4a" stroke-width="1" />
<line x1="229.00" y1="545.43" x2="229.00" y2="550.29" stroke="#4a4a4a" stroke-width="1" />
<line x1="218.60" y1="502.20" x2="239.40" y2="502.20" stroke="#4a4a4a" stroke-width="1" />
<line x1="218.60" y1="550.29" x2="239.40" y2="550.29" stroke="#4a4a4a" stroke-width="1" />
<rect x="208.40" y="507.06" width="41.2" height="38.37" fill="#9c8361" stroke="#231f20" stroke-width="1"/>
<line x1="208.40" y1="540.58" x2="249.60" y2="540.58" stroke="#231f20" stroke-width="1" />
<line x1="101.30" y1="529.00" x2="163.70" y2="528.20" stroke="#4a4a4a" stroke-width="0.9" />
<line x1="101.30" y1="500.00" x2="229.20" y2="498.30" stroke="#4a4a4a" stroke-width="0.9" />
<polygon points="137.00,521.00 137.59,522.49 139.19,522.59 137.95,523.61 138.35,525.16 137.00,524.30 135.65,525.16 136.05,523.61 134.81,522.59 136.41,522.49" fill="#231f20"/>
<polygon points="165.20,489.20 165.79,490.69 167.39,490.79 166.15,491.81 166.55,493.36 165.20,492.50 163.85,493.36 164.25,491.81 163.01,490.79 164.61,490.69" fill="#231f20"/>
<polygon points="169.90,489.20 170.49,490.69 172.09,490.79 170.85,491.81 171.25,493.36 169.90,492.50 168.55,493.36 168.95,491.81 167.71,490.79 169.31,490.69" fill="#231f20"/>
<polygon points="174.60,489.20 175.19,490.69 176.79,490.79 175.55,491.81 175.95,493.36 174.60,492.50 173.25,493.36 173.65,491.81 172.41,490.79 174.01,490.69" fill="#231f20"/>
<polygon points="179.30,489.20 179.89,490.69 181.49,490.79 180.25,491.81 180.65,493.36 179.30,492.50 177.95,493.36 178.35,491.81 177.11,490.79 178.71,490.69" fill="#231f20"/>
<text x="101.30" y="696.20" font-size="12.0" font-weight="bold" font-style="italic" text-anchor="middle" fill="#231f20" >gyrA</text>
<text x="165.30" y="696.20" font-size="12.0" font-weight="bold" font-style="italic" text-anchor="middle" fill="#231f20" >tssB</text>
<text x="228.90" y="696.20" font-size="12.0" font-weight="bold" font-style="italic" text-anchor="middle" fill="#231f20" >tssK2</text>
<text transform="translate(25.8,667.8) rotate(-90)" font-size="12" font-weight="bold" fill="#231f20">log<tspan font-size="7.7" dy="2.6">10</tspan><tspan dy="-2.6"> Fold-Change Transcript</tspan></text>
<text transform="translate(39.6,640.6) rotate(-90)" font-size="12.2" fill="#231f20">(<tspan font-style="italic">in vivo</tspan> over <tspan font-style="italic">in vitro</tspan>)</text>
<line x1="334.00" y1="488.21" x2="334.00" y2="682.30" stroke="#5a5a5a" stroke-width="1.3" />
<line x1="333.40" y1="681.70" x2="677.00" y2="681.70" stroke="#5a5a5a" stroke-width="1.3" />
<line x1="330.80" y1="681.70" x2="334.00" y2="681.70" stroke="#444" stroke-width="1.0" />
<text x="329.30" y="684.70" font-size="8.6" font-weight="bold" font-style="normal" text-anchor="end" fill="#231f20" >1</text>
<line x1="330.80" y1="654.13" x2="334.00" y2="654.13" stroke="#444" stroke-width="1.0" />
<text x="329.30" y="657.13" font-size="8.6" font-weight="bold" font-style="normal" text-anchor="end" fill="#231f20" >2</text>
<line x1="330.80" y1="626.56" x2="334.00" y2="626.56" stroke="#444" stroke-width="1.0" />
<text x="329.30" y="629.56" font-size="8.6" font-weight="bold" font-style="normal" text-anchor="end" fill="#231f20" >3</text>
<line x1="330.80" y1="598.99" x2="334.00" y2="598.99" stroke="#444" stroke-width="1.0" />
<text x="329.30" y="601.99" font-size="8.6" font-weight="bold" font-style="normal" text-anchor="end" fill="#231f20" >4</text>
<line x1="330.80" y1="571.42" x2="334.00" y2="571.42" stroke="#444" stroke-width="1.0" />
<text x="329.30" y="574.42" font-size="8.6" font-weight="bold" font-style="normal" text-anchor="end" fill="#231f20" >5</text>
<line x1="330.80" y1="543.85" x2="334.00" y2="543.85" stroke="#444" stroke-width="1.0" />
<text x="329.30" y="546.85" font-size="8.6" font-weight="bold" font-style="normal" text-anchor="end" fill="#231f20" >6</text>
<line x1="330.80" y1="516.28" x2="334.00" y2="516.28" stroke="#444" stroke-width="1.0" />
<text x="329.30" y="519.28" font-size="8.6" font-weight="bold" font-style="normal" text-anchor="end" fill="#231f20" >7</text>
<line x1="330.80" y1="488.71" x2="334.00" y2="488.71" stroke="#444" stroke-width="1.0" />
<text x="329.30" y="491.71" font-size="8.6" font-weight="bold" font-style="normal" text-anchor="end" fill="#231f20" >8</text>
<line x1="373.60" y1="681.70" x2="373.60" y2="684.50" stroke="#555" stroke-width="1.0" />
<text x="373.60" y="692.30" font-size="8.6" font-weight="bold" font-style="normal" text-anchor="middle" fill="#231f20" >1</text>
<line x1="461.60" y1="681.70" x2="461.60" y2="684.50" stroke="#555" stroke-width="1.0" />
<text x="461.60" y="692.30" font-size="8.6" font-weight="bold" font-style="normal" text-anchor="middle" fill="#231f20" >5</text>
<line x1="549.70" y1="681.70" x2="549.70" y2="684.50" stroke="#555" stroke-width="1.0" />
<text x="549.70" y="692.30" font-size="8.6" font-weight="bold" font-style="normal" text-anchor="middle" fill="#231f20" >9</text>
<line x1="637.70" y1="681.70" x2="637.70" y2="684.50" stroke="#555" stroke-width="1.0" />
<text x="637.70" y="692.30" font-size="8.6" font-weight="bold" font-style="normal" text-anchor="middle" fill="#231f20" >13</text>
<text x="506.00" y="704.00" font-size="12.0" font-weight="bold" font-style="normal" text-anchor="middle" fill="#231f20" >Days Post-Infection</text>
<text transform="translate(316.8,647.4) rotate(-90)" font-size="11.95" font-weight="bold" fill="#231f20">log<tspan font-size="7.7" dy="2.6">10</tspan><tspan dy="-2.6"> CFU / g of Feces</tspan></text>
<line x1="334.00" y1="654.40" x2="679.60" y2="654.40" stroke="#231f20" stroke-width="0.9" stroke-dasharray="1 1"/>
<text x="656.70" y="664.00" font-size="8.5" font-weight="bold" font-style="normal" text-anchor="start" fill="#231f20" >L.O.D</text>
<circle cx="452.80" cy="471.80" r="2.8" fill="#8c9094" stroke="#3a3a3a" stroke-width="0.6"/>
<text x="458.70" y="474.40" font-size="8.3" font-weight="bold" font-style="normal" text-anchor="start" fill="#231f20" >WT</text>
<path d="M489.50,469.00 L492.30,471.80 L489.50,474.60 L486.70,471.80 Z" fill="#1f9e55" stroke="#3a3a3a" stroke-width="0.6"/>
<text x="495.4" y="474.4" font-size="8.3" font-weight="bold" font-style="italic" fill="#231f20">ΔclpV</text>
<path d="M531.10,469.00 L533.90,471.80 L531.10,474.60 L528.30,471.80 Z" fill="#8c9094" stroke="#3a3a3a" stroke-width="0.6"/>
<text x="537.4" y="474.4" font-size="8.3" font-weight="bold" font-style="italic" fill="#231f20">clpV<tspan font-size="7.5" dy="-3.6" font-style="normal">+</tspan></text>
<circle cx="350.00" cy="500.40" r="3.0" fill="#8c9094" stroke="#3a3a3a" stroke-width="0.6"/>
<circle cx="345.20" cy="510.20" r="3.0" fill="#8c9094" stroke="#3a3a3a" stroke-width="0.6"/>
<circle cx="354.70" cy="509.90" r="3.0" fill="#8c9094" stroke="#3a3a3a" stroke-width="0.6"/>
<circle cx="350.00" cy="515.00" r="3.0" fill="#8c9094" stroke="#3a3a3a" stroke-width="0.6"/>
<circle cx="350.00" cy="524.50" r="3.0" fill="#8c9094" stroke="#3a3a3a" stroke-width="0.6"/>
<circle cx="345.20" cy="530.80" r="3.0" fill="#8c9094" stroke="#3a3a3a" stroke-width="0.6"/>
<circle cx="354.70" cy="535.80" r="3.0" fill="#8c9094" stroke="#3a3a3a" stroke-width="0.6"/>
<circle cx="350.00" cy="539.10" r="3.0" fill="#8c9094" stroke="#3a3a3a" stroke-width="0.6"/>
<circle cx="350.00" cy="556.60" r="3.0" fill="#8c9094" stroke="#3a3a3a" stroke-width="0.6"/>
<circle cx="350.00" cy="571.70" r="3.0" fill="#8c9094" stroke="#3a3a3a" stroke-width="0.6"/>
<circle cx="350.00" cy="590.90" r="3.0" fill="#8c9094" stroke="#3a3a3a" stroke-width="0.6"/>
<path d="M397.80,506.55 L400.75,509.50 L397.80,512.45 L394.85,509.50 Z" fill="#8c9094" stroke="#3a3a3a" stroke-width="0.6"/>
<path d="M397.80,523.15 L400.75,526.10 L397.80,529.05 L394.85,526.10 Z" fill="#8c9094" stroke="#3a3a3a" stroke-width="0.6"/>
<path d="M397.80,532.85 L400.75,535.80 L397.80,538.75 L394.85,535.80 Z" fill="#8c9094" stroke="#3a3a3a" stroke-width="0.6"/>
<path d="M393.40,538.35 L396.35,541.30 L393.40,544.25 L390.45,541.30 Z" fill="#8c9094" stroke="#3a3a3a" stroke-width="0.6"/>
<path d="M396.30,540.85 L399.25,543.80 L396.30,546.75 L393.35,543.80 Z" fill="#8c9094" stroke="#3a3a3a" stroke-width="0.6"/>
<path d="M400.00,540.85 L402.95,543.80 L400.00,546.75 L397.05,543.80 Z" fill="#8c9094" stroke="#3a3a3a" stroke-width="0.6"/>
<path d="M402.90,540.85 L405.85,543.80 L402.90,546.75 L399.95,543.80 Z" fill="#8c9094" stroke="#3a3a3a" stroke-width="0.6"/>
<path d="M396.30,560.55 L399.25,563.50 L396.30,566.45 L393.35,563.50 Z" fill="#8c9094" stroke="#3a3a3a" stroke-width="0.6"/>
<path d="M399.50,560.55 L402.45,563.50 L399.50,566.45 L396.55,563.50 Z" fill="#8c9094" stroke="#3a3a3a" stroke-width="0.6"/>
<path d="M397.80,583.15 L400.75,586.10 L397.80,589.05 L394.85,586.10 Z" fill="#8c9094" stroke="#3a3a3a" stroke-width="0.6"/>
<path d="M374.00,524.65 L376.75,527.40 L374.00,530.15 L371.25,527.40 Z" fill="#1f9e55" stroke="#3a3a3a" stroke-width="0.6"/>
<path d="M374.00,596.45 L376.75,599.20 L374.00,601.95 L371.25,599.20 Z" fill="#1f9e55" stroke="#3a3a3a" stroke-width="0.6"/>
<path d="M374.00,615.45 L376.75,618.20 L374.00,620.95 L371.25,618.20 Z" fill="#1f9e55" stroke="#3a3a3a" stroke-width="0.6"/>
<path d="M374.00,623.85 L376.75,626.60 L374.00,629.35 L371.25,626.60 Z" fill="#1f9e55" stroke="#3a3a3a" stroke-width="0.6"/>
<path d="M369.50,629.05 L372.25,631.80 L369.50,634.55 L366.75,631.80 Z" fill="#1f9e55" stroke="#3a3a3a" stroke-width="0.6"/>
<path d="M378.50,629.05 L381.25,631.80 L378.50,634.55 L375.75,631.80 Z" fill="#1f9e55" stroke="#3a3a3a" stroke-width="0.6"/>
<path d="M371.50,637.35 L374.25,640.10 L371.50,642.85 L368.75,640.10 Z" fill="#1f9e55" stroke="#3a3a3a" stroke-width="0.6"/>
<path d="M376.30,637.35 L379.05,640.10 L376.30,642.85 L373.55,640.10 Z" fill="#1f9e55" stroke="#3a3a3a" stroke-width="0.6"/>
<circle cx="433.10" cy="517.70" r="3.0" fill="#8c9094" stroke="#3a3a3a" stroke-width="0.6"/>
<circle cx="436.40" cy="518.20" r="3.0" fill="#8c9094" stroke="#3a3a3a" stroke-width="0.6"/>
<circle cx="442.60" cy="515.80" r="3.0" fill="#8c9094" stroke="#3a3a3a" stroke-width="0.6"/>
<circle cx="439.70" cy="519.70" r="3.0" fill="#8c9094" stroke="#3a3a3a" stroke-width="0.6"/>
<circle cx="433.10" cy="528.90" r="3.0" fill="#8c9094" stroke="#3a3a3a" stroke-width="0.6"/>
<circle cx="436.10" cy="532.30" r="3.0" fill="#8c9094" stroke="#3a3a3a" stroke-width="0.6"/>
<circle cx="433.10" cy="535.80" r="3.0" fill="#8c9094" stroke="#3a3a3a" stroke-width="0.6"/>
<circle cx="439.70" cy="535.80" r="3.0" fill="#8c9094" stroke="#3a3a3a" stroke-width="0.6"/>
<circle cx="442.60" cy="535.80" r="3.0" fill="#8c9094" stroke="#3a3a3a" stroke-width="0.6"/>
<circle cx="436.10" cy="543.80" r="3.0" fill="#8c9094" stroke="#3a3a3a" stroke-width="0.6"/>
<circle cx="439.70" cy="543.80" r="3.0" fill="#8c9094" stroke="#3a3a3a" stroke-width="0.6"/>
<path d="M487.40,515.25 L490.35,518.20 L487.40,521.15 L484.45,518.20 Z" fill="#8c9094" stroke="#3a3a3a" stroke-width="0.6"/>
<path d="M484.20,517.65 L487.15,520.60 L484.20,523.55 L481.25,520.60 Z" fill="#8c9094" stroke="#3a3a3a" stroke-width="0.6"/>
<path d="M481.30,523.05 L484.25,526.00 L481.30,528.95 L478.35,526.00 Z" fill="#8c9094" stroke="#3a3a3a" stroke-width="0.6"/>
<path d="M481.30,530.35 L484.25,533.30 L481.30,536.25 L478.35,533.30 Z" fill="#8c9094" stroke="#3a3a3a" stroke-width="0.6"/>
<path d="M487.40,528.15 L490.35,531.10 L487.40,534.05 L484.45,531.10 Z" fill="#8c9094" stroke="#3a3a3a" stroke-width="0.6"/>
<path d="M490.80,528.15 L493.75,531.10 L490.80,534.05 L487.85,531.10 Z" fill="#8c9094" stroke="#3a3a3a" stroke-width="0.6"/>
<path d="M484.20,539.85 L487.15,542.80 L484.20,545.75 L481.25,542.80 Z" fill="#8c9094" stroke="#3a3a3a" stroke-width="0.6"/>
<path d="M481.30,543.05 L484.25,546.00 L481.30,548.95 L478.35,546.00 Z" fill="#8c9094" stroke="#3a3a3a" stroke-width="0.6"/>
<path d="M487.40,540.85 L490.35,543.80 L487.40,546.75 L484.45,543.80 Z" fill="#8c9094" stroke="#3a3a3a" stroke-width="0.6"/>
<path d="M490.80,540.85 L493.75,543.80 L490.80,546.75 L487.85,543.80 Z" fill="#8c9094" stroke="#3a3a3a" stroke-width="0.6"/>
<path d="M461.90,526.25 L464.65,529.00 L461.90,531.75 L459.15,529.00 Z" fill="#1f9e55" stroke="#3a3a3a" stroke-width="0.6"/>
<path d="M461.90,544.65 L464.65,547.40 L461.90,550.15 L459.15,547.40 Z" fill="#1f9e55" stroke="#3a3a3a" stroke-width="0.6"/>
<path d="M457.20,592.25 L459.95,595.00 L457.20,597.75 L454.45,595.00 Z" fill="#1f9e55" stroke="#3a3a3a" stroke-width="0.6"/>
<path d="M460.40,590.85 L463.15,593.60 L460.40,596.35 L457.65,593.60 Z" fill="#1f9e55" stroke="#3a3a3a" stroke-width="0.6"/>
<path d="M463.40,593.75 L466.15,596.50 L463.40,599.25 L460.65,596.50 Z" fill="#1f9e55" stroke="#3a3a3a" stroke-width="0.6"/>
<path d="M466.70,591.15 L469.45,593.90 L466.70,596.65 L463.95,593.90 Z" fill="#1f9e55" stroke="#3a3a3a" stroke-width="0.6"/>
<path d="M461.90,617.55 L464.65,620.30 L461.90,623.05 L459.15,620.30 Z" fill="#1f9e55" stroke="#3a3a3a" stroke-width="0.6"/>
<path d="M461.90,651.75 L464.65,654.50 L461.90,657.25 L459.15,654.50 Z" fill="#1f9e55" stroke="#3a3a3a" stroke-width="0.6"/>
<circle cx="521.40" cy="509.90" r="3.0" fill="#8c9094" stroke="#3a3a3a" stroke-width="0.6"/>
<circle cx="524.30" cy="508.20" r="3.0" fill="#8c9094" stroke="#3a3a3a" stroke-width="0.6"/>
<circle cx="530.40" cy="514.00" r="3.0" fill="#8c9094" stroke="#3a3a3a" stroke-width="0.6"/>
<circle cx="521.40" cy="518.20" r="3.0" fill="#8c9094" stroke="#3a3a3a" stroke-width="0.6"/>
<circle cx="524.30" cy="518.20" r="3.0" fill="#8c9094" stroke="#3a3a3a" stroke-width="0.6"/>
<circle cx="527.50" cy="518.70" r="3.0" fill="#8c9094" stroke="#3a3a3a" stroke-width="0.6"/>
<circle cx="524.30" cy="528.60" r="3.0" fill="#8c9094" stroke="#3a3a3a" stroke-width="0.6"/>
<circle cx="527.50" cy="532.80" r="3.0" fill="#8c9094" stroke="#3a3a3a" stroke-width="0.6"/>
<circle cx="525.80" cy="539.10" r="3.0" fill="#8c9094" stroke="#3a3a3a" stroke-width="0.6"/>
<circle cx="529.00" cy="539.10" r="3.0" fill="#8c9094" stroke="#3a3a3a" stroke-width="0.6"/>
<circle cx="522.80" cy="543.80" r="3.0" fill="#8c9094" stroke="#3a3a3a" stroke-width="0.6"/>
<path d="M569.10,505.95 L572.05,508.90 L569.10,511.85 L566.15,508.90 Z" fill="#8c9094" stroke="#3a3a3a" stroke-width="0.6"/>
<path d="M573.80,510.65 L576.75,513.60 L573.80,516.55 L570.85,513.60 Z" fill="#8c9094" stroke="#3a3a3a" stroke-width="0.6"/>
<path d="M569.10,516.45 L572.05,519.40 L569.10,522.35 L566.15,519.40 Z" fill="#8c9094" stroke="#3a3a3a" stroke-width="0.6"/>
<path d="M573.80,520.45 L576.75,523.40 L573.80,526.35 L570.85,523.40 Z" fill="#8c9094" stroke="#3a3a3a" stroke-width="0.6"/>
<path d="M569.10,524.45 L572.05,527.40 L569.10,530.35 L566.15,527.40 Z" fill="#8c9094" stroke="#3a3a3a" stroke-width="0.6"/>
<path d="M578.60,524.45 L581.55,527.40 L578.60,530.35 L575.65,527.40 Z" fill="#8c9094" stroke="#3a3a3a" stroke-width="0.6"/>
<path d="M573.80,528.15 L576.75,531.10 L573.80,534.05 L570.85,531.10 Z" fill="#8c9094" stroke="#3a3a3a" stroke-width="0.6"/>
<path d="M578.60,536.15 L581.55,539.10 L578.60,542.05 L575.65,539.10 Z" fill="#8c9094" stroke="#3a3a3a" stroke-width="0.6"/>
<path d="M573.80,540.95 L576.75,543.90 L573.80,546.85 L570.85,543.90 Z" fill="#8c9094" stroke="#3a3a3a" stroke-width="0.6"/>
<path d="M573.80,548.25 L576.75,551.20 L573.80,554.15 L570.85,551.20 Z" fill="#8c9094" stroke="#3a3a3a" stroke-width="0.6"/>
<path d="M549.70,522.05 L552.45,524.80 L549.70,527.55 L546.95,524.80 Z" fill="#1f9e55" stroke="#3a3a3a" stroke-width="0.6"/>
<path d="M549.70,541.15 L552.45,543.90 L549.70,546.65 L546.95,543.90 Z" fill="#1f9e55" stroke="#3a3a3a" stroke-width="0.6"/>
<path d="M549.70,574.95 L552.45,577.70 L549.70,580.45 L546.95,577.70 Z" fill="#1f9e55" stroke="#3a3a3a" stroke-width="0.6"/>
<path d="M549.70,591.85 L552.45,594.60 L549.70,597.35 L546.95,594.60 Z" fill="#1f9e55" stroke="#3a3a3a" stroke-width="0.6"/>
<path d="M545.30,612.25 L548.05,615.00 L545.30,617.75 L542.55,615.00 Z" fill="#1f9e55" stroke="#3a3a3a" stroke-width="0.6"/>
<path d="M554.50,612.25 L557.25,615.00 L554.50,617.75 L551.75,615.00 Z" fill="#1f9e55" stroke="#3a3a3a" stroke-width="0.6"/>
<path d="M545.30,651.75 L548.05,654.50 L545.30,657.25 L542.55,654.50 Z" fill="#1f9e55" stroke="#3a3a3a" stroke-width="0.6"/>
<path d="M554.50,651.75 L557.25,654.50 L554.50,657.25 L551.75,654.50 Z" fill="#1f9e55" stroke="#3a3a3a" stroke-width="0.6"/>
<circle cx="609.10" cy="515.00" r="3.0" fill="#8c9094" stroke="#3a3a3a" stroke-width="0.6"/>
<circle cx="611.90" cy="518.40" r="3.0" fill="#8c9094" stroke="#3a3a3a" stroke-width="0.6"/>
<circle cx="615.20" cy="517.70" r="3.0" fill="#8c9094" stroke="#3a3a3a" stroke-width="0.6"/>
<circle cx="618.40" cy="516.30" r="3.0" fill="#8c9094" stroke="#3a3a3a" stroke-width="0.6"/>
<circle cx="612.50" cy="530.20" r="3.0" fill="#8c9094" stroke="#3a3a3a" stroke-width="0.6"/>
<circle cx="615.40" cy="528.80" r="3.0" fill="#8c9094" stroke="#3a3a3a" stroke-width="0.6"/>
<circle cx="609.10" cy="535.80" r="3.0" fill="#8c9094" stroke="#3a3a3a" stroke-width="0.6"/>
<circle cx="612.50" cy="538.90" r="3.0" fill="#8c9094" stroke="#3a3a3a" stroke-width="0.6"/>
<circle cx="618.40" cy="538.90" r="3.0" fill="#8c9094" stroke="#3a3a3a" stroke-width="0.6"/>
<circle cx="609.10" cy="543.80" r="3.0" fill="#8c9094" stroke="#3a3a3a" stroke-width="0.6"/>
<circle cx="615.20" cy="543.80" r="3.0" fill="#8c9094" stroke="#3a3a3a" stroke-width="0.6"/>
<path d="M663.50,515.85 L666.45,518.80 L663.50,521.75 L660.55,518.80 Z" fill="#8c9094" stroke="#3a3a3a" stroke-width="0.6"/>
<path d="M660.50,517.55 L663.45,520.50 L660.50,523.45 L657.55,520.50 Z" fill="#8c9094" stroke="#3a3a3a" stroke-width="0.6"/>
<path d="M663.50,521.45 L666.45,524.40 L663.50,527.35 L660.55,524.40 Z" fill="#8c9094" stroke="#3a3a3a" stroke-width="0.6"/>
<path d="M660.50,522.85 L663.45,525.80 L660.50,528.75 L657.55,525.80 Z" fill="#8c9094" stroke="#3a3a3a" stroke-width="0.6"/>
<path d="M657.30,525.55 L660.25,528.50 L657.30,531.45 L654.35,528.50 Z" fill="#8c9094" stroke="#3a3a3a" stroke-width="0.6"/>
<path d="M660.50,529.45 L663.45,532.40 L660.50,535.35 L657.55,532.40 Z" fill="#8c9094" stroke="#3a3a3a" stroke-width="0.6"/>
<path d="M663.50,529.45 L666.45,532.40 L663.50,535.35 L660.55,532.40 Z" fill="#8c9094" stroke="#3a3a3a" stroke-width="0.6"/>
<path d="M666.60,530.05 L669.55,533.00 L666.60,535.95 L663.65,533.00 Z" fill="#8c9094" stroke="#3a3a3a" stroke-width="0.6"/>
<path d="M663.50,533.95 L666.45,536.90 L663.50,539.85 L660.55,536.90 Z" fill="#8c9094" stroke="#3a3a3a" stroke-width="0.6"/>
<path d="M661.40,541.15 L664.35,544.10 L661.40,547.05 L658.45,544.10 Z" fill="#8c9094" stroke="#3a3a3a" stroke-width="0.6"/>
<path d="M633.30,528.15 L636.05,530.90 L633.30,533.65 L630.55,530.90 Z" fill="#1f9e55" stroke="#3a3a3a" stroke-width="0.6"/>
<path d="M642.40,526.05 L645.15,528.80 L642.40,531.55 L639.65,528.80 Z" fill="#1f9e55" stroke="#3a3a3a" stroke-width="0.6"/>
<path d="M633.40,569.95 L636.15,572.70 L633.40,575.45 L630.65,572.70 Z" fill="#1f9e55" stroke="#3a3a3a" stroke-width="0.6"/>
<path d="M642.60,569.95 L645.35,572.70 L642.60,575.45 L639.85,572.70 Z" fill="#1f9e55" stroke="#3a3a3a" stroke-width="0.6"/>
<path d="M637.80,575.95 L640.55,578.70 L637.80,581.45 L635.05,578.70 Z" fill="#1f9e55" stroke="#3a3a3a" stroke-width="0.6"/>
<path d="M637.80,608.45 L640.55,611.20 L637.80,613.95 L635.05,611.20 Z" fill="#1f9e55" stroke="#3a3a3a" stroke-width="0.6"/>
<path d="M637.80,637.15 L640.55,639.90 L637.80,642.65 L635.05,639.90 Z" fill="#1f9e55" stroke="#3a3a3a" stroke-width="0.6"/>
<path d="M637.80,651.25 L640.55,654.00 L637.80,656.75 L635.05,654.00 Z" fill="#1f9e55" stroke="#3a3a3a" stroke-width="0.6"/>
<line x1="339.10" y1="530.80" x2="361.00" y2="530.80" stroke="#4a4a4a" stroke-width="1.1" />
<line x1="427.00" y1="532.80" x2="448.90" y2="532.80" stroke="#4a4a4a" stroke-width="1.1" />
<line x1="515.10" y1="519.10" x2="536.70" y2="519.10" stroke="#4a4a4a" stroke-width="1.1" />
<line x1="603.20" y1="530.90" x2="624.70" y2="530.90" stroke="#4a4a4a" stroke-width="1.1" />
<line x1="387.10" y1="543.90" x2="408.70" y2="543.90" stroke="#4a4a4a" stroke-width="1.1" />
<line x1="475.20" y1="531.80" x2="496.60" y2="531.80" stroke="#4a4a4a" stroke-width="1.1" />
<line x1="563.00" y1="527.40" x2="584.70" y2="527.40" stroke="#4a4a4a" stroke-width="1.1" />
<line x1="651.00" y1="529.70" x2="672.80" y2="529.70" stroke="#4a4a4a" stroke-width="1.1" />
<line x1="363.00" y1="629.00" x2="385.00" y2="629.00" stroke="#4a4a4a" stroke-width="1.1" />
<line x1="451.10" y1="594.60" x2="472.80" y2="594.60" stroke="#4a4a4a" stroke-width="1.1" />
<line x1="538.90" y1="600.30" x2="560.80" y2="600.30" stroke="#4a4a4a" stroke-width="1.1" />
<line x1="627.00" y1="575.30" x2="648.70" y2="575.30" stroke="#4a4a4a" stroke-width="1.1" />
<line x1="350.00" y1="491.40" x2="374.10" y2="491.40" stroke="#4a4a4a" stroke-width="1" />
<polygon points="360.90,484.00 361.43,485.37 362.90,485.45 361.76,486.38 362.13,487.80 360.90,487.00 359.67,487.80 360.04,486.38 358.90,485.45 360.37,485.37" fill="#231f20"/>
<polygon points="365.10,484.00 365.63,485.37 367.10,485.45 365.96,486.38 366.33,487.80 365.10,487.00 363.87,487.80 364.24,486.38 363.10,485.45 364.57,485.37" fill="#231f20"/>
<line x1="374.30" y1="503.40" x2="398.60" y2="503.40" stroke="#4a4a4a" stroke-width="1" />
<polygon points="388.20,496.70 388.73,498.07 390.20,498.15 389.06,499.08 389.43,500.50 388.20,499.70 386.97,500.50 387.34,499.08 386.20,498.15 387.67,498.07" fill="#231f20"/>
<line x1="434.60" y1="502.60" x2="462.80" y2="502.60" stroke="#4a4a4a" stroke-width="1" />
<polygon points="447.10,495.20 447.63,496.57 449.10,496.65 447.96,497.58 448.33,499.00 447.10,498.20 445.87,499.00 446.24,497.58 445.10,496.65 446.57,496.57" fill="#231f20"/>
<polygon points="451.30,495.20 451.83,496.57 453.30,496.65 452.16,497.58 452.53,499.00 451.30,498.20 450.07,499.00 450.44,497.58 449.30,496.65 450.77,496.57" fill="#231f20"/>
<line x1="458.70" y1="511.40" x2="486.90" y2="511.40" stroke="#4a4a4a" stroke-width="1" />
<polygon points="474.30,504.70 474.83,506.07 476.30,506.15 475.16,507.08 475.53,508.50 474.30,507.70 473.07,508.50 473.44,507.08 472.30,506.15 473.77,506.07" fill="#231f20"/>
<line x1="522.00" y1="495.30" x2="549.90" y2="495.30" stroke="#4a4a4a" stroke-width="1" />
<polygon points="535.30,487.90 535.83,489.27 537.30,489.35 536.16,490.28 536.53,491.70 535.30,490.90 534.07,491.70 534.44,490.28 533.30,489.35 534.77,489.27" fill="#231f20"/>
<polygon points="539.50,487.90 540.03,489.27 541.50,489.35 540.36,490.28 540.73,491.70 539.50,490.90 538.27,491.70 538.64,490.28 537.50,489.35 538.97,489.27" fill="#231f20"/>
<line x1="544.30" y1="504.80" x2="572.50" y2="504.80" stroke="#4a4a4a" stroke-width="1" />
<polygon points="560.40,498.10 560.93,499.47 562.40,499.55 561.26,500.48 561.63,501.90 560.40,501.10 559.17,501.90 559.54,500.48 558.40,499.55 559.87,499.47" fill="#231f20"/>
<line x1="609.10" y1="499.40" x2="636.90" y2="499.40" stroke="#4a4a4a" stroke-width="1" />
<polygon points="624.30,492.70 624.83,494.07 626.30,494.15 625.16,495.08 625.53,496.50 624.30,495.70 623.07,496.50 623.44,495.08 622.30,494.15 623.77,494.07" fill="#231f20"/>
<line x1="637.20" y1="511.60" x2="665.20" y2="511.60" stroke="#4a4a4a" stroke-width="1" />
<polygon points="652.00,504.90 652.53,506.27 654.00,506.35 652.86,507.28 653.23,508.70 652.00,507.90 650.77,508.70 651.14,507.28 650.00,506.35 651.47,506.27" fill="#231f20"/>
<path d="M137.6,210.0 L156.3,210.0 L161.5,215.8 L166.2,221.7 L170.3,227.2 L169.7,226.9 L159.2,223.4 L147.5,217.0 Z" fill="#151515"/>
<path d="M182.6,209.8 L202.0,209.8 L197.5,216.3 L191.7,221.3 L184.7,225.0 L176.7,226.7 L170.3,227.2 L175.0,221.7 L179.0,215.8 Z" fill="#151515"/>
<g fill="#222"><circle cx="149.1" cy="220.1" r="1.0"/><circle cx="150.5" cy="219.3" r="1.0"/><circle cx="141.3" cy="214.5" r="1.0"/><circle cx="163.4" cy="224.7" r="1.0"/><circle cx="140.7" cy="214.5" r="1.0"/><circle cx="141.5" cy="211.7" r="1.0"/><circle cx="157.6" cy="222.6" r="1.0"/><circle cx="137.2" cy="210.7" r="1.0"/><circle cx="143.2" cy="214.8" r="1.0"/><circle cx="149.8" cy="220.1" r="1.0"/><circle cx="152.9" cy="221.3" r="1.0"/><circle cx="157.4" cy="222.5" r="1.0"/><circle cx="171.4" cy="226.8" r="1.0"/><circle cx="159.5" cy="223.7" r="1.0"/><circle cx="148.2" cy="217.3" r="1.0"/><circle cx="150.6" cy="219.3" r="1.0"/><circle cx="167.9" cy="226.4" r="1.0"/><circle cx="145.0" cy="215.7" r="1.0"/><circle cx="168.2" cy="226.8" r="1.0"/><circle cx="157.5" cy="222.8" r="1.0"/><circle cx="138.4" cy="215.5" r="1.0"/><circle cx="162.1" cy="224.3" r="1.0"/><circle cx="142.3" cy="213.6" r="1.0"/><circle cx="141.6" cy="214.8" r="1.0"/><circle cx="143.1" cy="215.2" r="1.0"/><circle cx="158.7" cy="222.9" r="1.0"/><circle cx="143.5" cy="218.6" r="1.0"/><circle cx="162.1" cy="226.8" r="1.0"/><circle cx="142.0" cy="216.6" r="1.0"/><circle cx="160.6" cy="224.3" r="1.0"/><circle cx="143.8" cy="217.3" r="1.0"/><circle cx="147.5" cy="217.5" r="1.0"/><circle cx="139.2" cy="213.0" r="1.0"/><circle cx="155.5" cy="222.4" r="1.0"/><circle cx="166.3" cy="226.5" r="1.0"/><circle cx="165.2" cy="225.8" r="1.0"/><circle cx="166.6" cy="226.6" r="1.0"/><circle cx="143.0" cy="217.8" r="1.0"/><circle cx="145.8" cy="215.5" r="1.0"/><circle cx="156.0" cy="221.6" r="1.0"/><circle cx="139.2" cy="211.5" r="1.0"/><circle cx="159.6" cy="225.4" r="1.0"/><circle cx="156.0" cy="222.0" r="1.0"/><circle cx="161.0" cy="223.4" r="1.0"/><circle cx="156.0" cy="222.2" r="1.0"/><circle cx="146.8" cy="216.6" r="1.0"/><circle cx="137.5" cy="212.1" r="1.0"/><circle cx="139.6" cy="213.0" r="1.0"/><circle cx="156.2" cy="221.8" r="1.0"/><circle cx="167.4" cy="225.7" r="1.0"/><circle cx="158.7" cy="223.0" r="1.0"/><circle cx="140.8" cy="211.5" r="1.0"/><circle cx="159.8" cy="222.8" r="1.0"/><circle cx="155.6" cy="222.0" r="1.0"/><circle cx="147.8" cy="216.8" r="1.0"/><circle cx="154.4" cy="223.4" r="1.0"/><circle cx="160.1" cy="225.6" r="1.0"/><circle cx="165.4" cy="226.8" r="1.0"/><circle cx="166.9" cy="226.6" r="1.0"/><circle cx="163.5" cy="225.4" r="1.0"/><circle cx="156.0" cy="222.9" r="1.0"/><circle cx="158.1" cy="222.3" r="1.0"/><circle cx="170.4" cy="226.8" r="1.0"/><circle cx="149.4" cy="219.8" r="1.0"/><circle cx="151.5" cy="219.3" r="1.0"/><circle cx="162.8" cy="223.8" r="1.0"/><circle cx="152.8" cy="221.6" r="1.0"/><circle cx="151.0" cy="221.7" r="1.0"/><circle cx="146.3" cy="215.8" r="1.0"/><circle cx="159.1" cy="223.2" r="1.0"/><circle cx="165.5" cy="226.8" r="1.0"/><circle cx="164.9" cy="226.8" r="1.0"/><circle cx="141.5" cy="215.7" r="1.0"/><circle cx="167.3" cy="226.7" r="1.0"/><circle cx="155.6" cy="221.7" r="1.0"/><circle cx="154.3" cy="222.0" r="1.0"/><circle cx="160.8" cy="223.2" r="1.0"/><circle cx="141.6" cy="214.4" r="1.0"/><circle cx="142.5" cy="215.9" r="1.0"/><circle cx="152.0" cy="222.1" r="1.0"/><circle cx="168.2" cy="226.8" r="1.0"/><circle cx="138.4" cy="211.4" r="1.0"/><circle cx="158.9" cy="223.3" r="1.0"/><circle cx="163.2" cy="224.1" r="1.0"/><circle cx="153.9" cy="219.4" r="1.0"/><circle cx="145.0" cy="215.7" r="1.0"/><circle cx="155.7" cy="222.3" r="1.0"/><circle cx="159.2" cy="225.4" r="1.0"/><circle cx="159.5" cy="224.0" r="1.0"/><circle cx="144.2" cy="214.4" r="1.0"/><circle cx="160.4" cy="223.9" r="1.0"/><circle cx="147.7" cy="218.8" r="1.0"/><circle cx="156.9" cy="222.8" r="1.0"/><circle cx="162.9" cy="224.4" r="1.0"/><circle cx="166.9" cy="226.7" r="1.0"/><circle cx="149.8" cy="221.2" r="1.0"/><circle cx="147.0" cy="218.9" r="1.0"/><circle cx="163.9" cy="224.6" r="1.0"/><circle cx="158.5" cy="224.1" r="1.0"/><circle cx="162.2" cy="226.1" r="1.0"/><circle cx="146.7" cy="217.2" r="1.0"/><circle cx="166.4" cy="226.8" r="1.0"/><circle cx="149.4" cy="218.3" r="1.0"/><circle cx="149.4" cy="218.0" r="1.0"/><circle cx="154.9" cy="222.1" r="1.0"/><circle cx="138.2" cy="211.5" r="1.0"/><circle cx="163.3" cy="225.3" r="1.0"/><circle cx="162.8" cy="224.6" r="1.0"/><circle cx="153.3" cy="222.6" r="1.0"/><circle cx="160.5" cy="223.1" r="1.0"/><circle cx="168.3" cy="226.7" r="1.0"/><circle cx="153.5" cy="222.3" r="1.0"/><circle cx="155.3" cy="222.2" r="1.0"/><circle cx="154.6" cy="221.9" r="1.0"/><circle cx="164.9" cy="225.3" r="1.0"/><circle cx="165.8" cy="225.2" r="1.0"/><circle cx="155.9" cy="222.5" r="1.0"/><circle cx="153.0" cy="220.0" r="1.0"/><circle cx="167.0" cy="226.6" r="1.0"/><circle cx="161.5" cy="224.8" r="1.0"/><circle cx="160.6" cy="223.3" r="1.0"/><circle cx="153.0" cy="219.2" r="1.0"/><circle cx="145.1" cy="216.0" r="1.0"/><circle cx="152.1" cy="221.4" r="1.0"/><circle cx="152.1" cy="220.2" r="1.0"/><circle cx="157.5" cy="221.8" r="1.0"/><circle cx="162.9" cy="224.0" r="1.0"/><circle cx="144.0" cy="216.3" r="1.0"/><circle cx="148.1" cy="217.8" r="1.0"/><circle cx="161.6" cy="224.3" r="1.0"/><circle cx="145.6" cy="217.2" r="1.0"/><circle cx="150.2" cy="219.7" r="1.0"/><circle cx="154.5" cy="221.0" r="1.0"/><circle cx="156.4" cy="223.0" r="1.0"/><circle cx="162.6" cy="226.6" r="1.0"/><circle cx="144.4" cy="217.8" r="1.0"/><circle cx="165.7" cy="226.7" r="1.0"/><circle cx="167.6" cy="226.8" r="1.0"/><circle cx="166.2" cy="226.1" r="1.0"/><circle cx="160.4" cy="223.7" r="1.0"/><circle cx="179.7" cy="225.5" r="1.0"/><circle cx="197.9" cy="214.6" r="1.0"/><circle cx="202.3" cy="212.2" r="1.0"/><circle cx="179.7" cy="225.7" r="1.0"/><circle cx="189.6" cy="221.5" r="1.0"/><circle cx="185.1" cy="223.1" r="1.0"/><circle cx="200.8" cy="213.6" r="1.0"/><circle cx="188.8" cy="220.7" r="1.0"/><circle cx="198.2" cy="216.8" r="1.0"/><circle cx="177.6" cy="226.8" r="1.0"/><circle cx="201.8" cy="212.5" r="1.0"/><circle cx="182.4" cy="224.8" r="1.0"/><circle cx="188.0" cy="221.0" r="1.0"/><circle cx="201.4" cy="212.5" r="1.0"/><circle cx="196.1" cy="215.4" r="1.0"/><circle cx="192.2" cy="219.3" r="1.0"/><circle cx="191.4" cy="220.6" r="1.0"/><circle cx="181.5" cy="226.2" r="1.0"/><circle cx="185.3" cy="222.8" r="1.0"/><circle cx="191.3" cy="220.5" r="1.0"/><circle cx="197.2" cy="217.2" r="1.0"/><circle cx="183.0" cy="224.9" r="1.0"/><circle cx="180.7" cy="226.5" r="1.0"/><circle cx="183.0" cy="224.9" r="1.0"/><circle cx="184.8" cy="223.7" r="1.0"/><circle cx="191.4" cy="219.8" r="1.0"/><circle cx="185.6" cy="222.7" r="1.0"/><circle cx="177.9" cy="226.8" r="1.0"/><circle cx="184.5" cy="223.0" r="1.0"/><circle cx="193.9" cy="218.5" r="1.0"/><circle cx="184.8" cy="225.8" r="1.0"/><circle cx="200.5" cy="212.1" r="1.0"/><circle cx="195.5" cy="216.5" r="1.0"/><circle cx="197.0" cy="215.5" r="1.0"/><circle cx="197.0" cy="216.9" r="1.0"/><circle cx="190.7" cy="220.6" r="1.0"/><circle cx="175.9" cy="226.8" r="1.0"/><circle cx="199.0" cy="213.6" r="1.0"/><circle cx="201.7" cy="212.0" r="1.0"/><circle cx="190.9" cy="220.8" r="1.0"/><circle cx="189.1" cy="222.6" r="1.0"/><circle cx="190.3" cy="219.2" r="1.0"/><circle cx="192.7" cy="219.6" r="1.0"/><circle cx="187.8" cy="222.6" r="1.0"/><circle cx="195.6" cy="217.1" r="1.0"/><circle cx="202.1" cy="213.1" r="1.0"/><circle cx="193.8" cy="219.5" r="1.0"/><circle cx="203.4" cy="212.0" r="1.0"/><circle cx="201.3" cy="213.1" r="1.0"/><circle cx="191.0" cy="220.0" r="1.0"/><circle cx="190.5" cy="221.2" r="1.0"/><circle cx="192.3" cy="220.0" r="1.0"/><circle cx="188.1" cy="222.6" r="1.0"/><circle cx="190.9" cy="219.9" r="1.0"/><circle cx="189.7" cy="221.4" r="1.0"/><circle cx="184.7" cy="222.8" r="1.0"/><circle cx="186.1" cy="222.2" r="1.0"/><circle cx="191.3" cy="220.7" r="1.0"/><circle cx="183.8" cy="223.9" r="1.0"/><circle cx="180.0" cy="226.8" r="1.0"/><circle cx="193.0" cy="219.6" r="1.0"/><circle cx="186.8" cy="221.9" r="1.0"/><circle cx="183.5" cy="224.4" r="1.0"/><circle cx="179.3" cy="226.8" r="1.0"/><circle cx="202.0" cy="211.9" r="1.0"/><circle cx="191.2" cy="219.4" r="1.0"/><circle cx="189.0" cy="221.0" r="1.0"/><circle cx="183.8" cy="223.1" r="1.0"/><circle cx="192.2" cy="218.4" r="1.0"/><circle cx="193.5" cy="219.7" r="1.0"/><circle cx="201.7" cy="213.8" r="1.0"/><circle cx="186.6" cy="222.6" r="1.0"/><circle cx="191.5" cy="220.9" r="1.0"/><circle cx="191.3" cy="220.7" r="1.0"/><circle cx="192.5" cy="218.0" r="1.0"/><circle cx="178.1" cy="226.2" r="1.0"/><circle cx="200.1" cy="213.4" r="1.0"/><circle cx="199.1" cy="213.2" r="1.0"/><circle cx="184.4" cy="224.4" r="1.0"/><circle cx="200.7" cy="214.0" r="1.0"/><circle cx="199.7" cy="214.2" r="1.0"/><circle cx="184.6" cy="223.4" r="1.0"/><circle cx="193.1" cy="219.0" r="1.0"/><circle cx="199.0" cy="214.8" r="1.0"/><circle cx="181.1" cy="226.5" r="1.0"/><circle cx="191.5" cy="220.1" r="1.0"/><circle cx="192.4" cy="218.8" r="1.0"/><circle cx="179.7" cy="226.4" r="1.0"/><circle cx="192.4" cy="218.9" r="1.0"/><circle cx="192.9" cy="219.7" r="1.0"/></g>
<g fill="#444"><circle cx="110.6" cy="212.6" r="0.95"/><circle cx="126.0" cy="214.0" r="0.95"/><circle cx="124.6" cy="218.0" r="0.95"/><circle cx="125.3" cy="217.8" r="0.95"/><circle cx="136.6" cy="216.8" r="0.95"/><circle cx="138.6" cy="221.9" r="0.95"/><circle cx="147.8" cy="223.5" r="0.95"/><circle cx="214.5" cy="215.8" r="0.95"/><circle cx="220.3" cy="217.0" r="0.95"/><circle cx="210.4" cy="220.4" r="0.95"/><circle cx="205.7" cy="221.0" r="0.95"/><circle cx="202.2" cy="222.2" r="0.95"/><circle cx="218.5" cy="210.6" r="0.95"/><circle cx="221.9" cy="210.2" r="0.95"/><circle cx="227.0" cy="210.6" r="0.95"/><circle cx="229.2" cy="212.0" r="0.95"/><circle cx="233.6" cy="211.0" r="0.95"/><circle cx="224.5" cy="210.4" r="0.95"/><circle cx="207.8" cy="221.3" r="0.95"/><circle cx="199.5" cy="223.0" r="0.95"/><circle cx="131.0" cy="219.0" r="0.95"/><circle cx="134.0" cy="221.0" r="0.95"/><circle cx="141.0" cy="222.5" r="0.95"/><circle cx="144.0" cy="224.5" r="0.95"/><circle cx="128.5" cy="212.5" r="0.95"/><circle cx="133.5" cy="213.5" r="0.95"/><circle cx="140.0" cy="218.5" r="0.95"/><circle cx="196.0" cy="224.0" r="0.95"/><circle cx="190.0" cy="225.0" r="0.95"/><circle cx="194.0" cy="223.5" r="0.95"/><circle cx="186.5" cy="225.8" r="0.95"/><circle cx="203.0" cy="213.5" r="0.95"/><circle cx="200.0" cy="216.5" r="0.95"/><circle cx="135.5" cy="215.5" r="0.95"/><circle cx="137.5" cy="217.5" r="0.95"/><circle cx="139.5" cy="219.5" r="0.95"/><circle cx="142.5" cy="220.5" r="0.95"/><circle cx="145.5" cy="222.0" r="0.95"/><circle cx="149.5" cy="223.8" r="0.95"/><circle cx="152.5" cy="224.8" r="0.95"/><circle cx="212.5" cy="218.2" r="0.95"/></g>
<g fill="#f0675a"><circle cx="110.5" cy="132.1" r="1.25"/><circle cx="113.3" cy="133.7" r="1.25"/><circle cx="111.1" cy="134.2" r="1.25"/><circle cx="114.0" cy="135.8" r="1.25"/><circle cx="112.3" cy="136.5" r="1.25"/><circle cx="103.3" cy="137.9" r="1.25"/><circle cx="95.5" cy="138.3" r="1.25"/><circle cx="105.7" cy="139.2" r="1.25"/><circle cx="112.1" cy="140.9" r="1.25"/><circle cx="105.0" cy="140.5" r="1.25"/><circle cx="118.6" cy="141.3" r="1.25"/><circle cx="110.2" cy="142.0" r="1.25"/><circle cx="113.8" cy="143.4" r="1.25"/><circle cx="102.8" cy="144.2" r="1.25"/><circle cx="111.2" cy="145.3" r="1.25"/><circle cx="123.6" cy="145.5" r="1.25"/><circle cx="111.7" cy="147.0" r="1.25"/><circle cx="120.0" cy="147.8" r="1.25"/><circle cx="117.4" cy="147.0" r="1.25"/><circle cx="102.5" cy="148.1" r="1.25"/><circle cx="119.0" cy="149.7" r="1.25"/><circle cx="117.2" cy="149.5" r="1.25"/><circle cx="116.9" cy="150.6" r="1.25"/><circle cx="110.0" cy="151.4" r="1.25"/><circle cx="116.2" cy="152.1" r="1.25"/><circle cx="111.0" cy="153.5" r="1.25"/><circle cx="117.2" cy="153.2" r="1.25"/><circle cx="110.3" cy="154.1" r="1.25"/><circle cx="105.4" cy="154.3" r="1.25"/><circle cx="117.5" cy="155.7" r="1.25"/><circle cx="109.8" cy="155.1" r="1.25"/><circle cx="120.2" cy="156.8" r="1.25"/><circle cx="108.8" cy="157.0" r="1.25"/><circle cx="123.0" cy="157.2" r="1.25"/><circle cx="136.3" cy="158.5" r="1.25"/><circle cx="117.9" cy="158.8" r="1.25"/><circle cx="115.3" cy="159.6" r="1.25"/><circle cx="122.9" cy="159.5" r="1.25"/><circle cx="109.6" cy="160.3" r="1.25"/><circle cx="123.2" cy="160.3" r="1.25"/><circle cx="110.2" cy="161.7" r="1.25"/><circle cx="131.5" cy="161.6" r="1.25"/><circle cx="119.4" cy="162.3" r="1.25"/><circle cx="115.4" cy="162.1" r="1.25"/><circle cx="117.6" cy="163.7" r="1.25"/><circle cx="114.5" cy="163.4" r="1.25"/><circle cx="116.3" cy="163.8" r="1.25"/><circle cx="117.3" cy="164.2" r="1.25"/><circle cx="116.7" cy="164.1" r="1.25"/><circle cx="120.9" cy="165.4" r="1.25"/><circle cx="112.7" cy="165.5" r="1.25"/><circle cx="110.8" cy="166.4" r="1.25"/><circle cx="118.8" cy="166.3" r="1.25"/><circle cx="121.1" cy="167.7" r="1.25"/><circle cx="123.0" cy="168.0" r="1.25"/><circle cx="111.1" cy="168.0" r="1.25"/><circle cx="115.4" cy="168.3" r="1.25"/><circle cx="129.4" cy="169.4" r="1.25"/><circle cx="124.3" cy="169.5" r="1.25"/><circle cx="109.1" cy="169.6" r="1.25"/><circle cx="128.8" cy="170.8" r="1.25"/><circle cx="116.8" cy="170.4" r="1.25"/><circle cx="128.4" cy="170.5" r="1.25"/><circle cx="130.5" cy="171.5" r="1.25"/><circle cx="124.6" cy="171.7" r="1.25"/><circle cx="118.8" cy="172.6" r="1.25"/><circle cx="126.9" cy="172.2" r="1.25"/><circle cx="125.7" cy="173.7" r="1.25"/><circle cx="128.8" cy="173.3" r="1.25"/><circle cx="120.6" cy="174.1" r="1.25"/><circle cx="133.5" cy="175.0" r="1.25"/><circle cx="134.7" cy="174.5" r="1.25"/><circle cx="122.6" cy="175.6" r="1.25"/><circle cx="139.3" cy="176.0" r="1.25"/><circle cx="121.3" cy="175.8" r="1.25"/><circle cx="122.2" cy="176.3" r="1.25"/><circle cx="125.1" cy="176.9" r="1.25"/><circle cx="133.8" cy="177.2" r="1.25"/><circle cx="126.5" cy="177.5" r="1.25"/><circle cx="126.4" cy="179.0" r="1.25"/><circle cx="122.3" cy="178.9" r="1.25"/><circle cx="120.4" cy="178.7" r="1.25"/><circle cx="115.2" cy="179.4" r="1.25"/><circle cx="118.7" cy="179.0" r="1.25"/><circle cx="121.8" cy="179.2" r="1.25"/><circle cx="127.0" cy="180.6" r="1.25"/><circle cx="120.6" cy="180.2" r="1.25"/><circle cx="125.6" cy="180.6" r="1.25"/><circle cx="137.0" cy="181.6" r="1.25"/><circle cx="129.0" cy="181.1" r="1.25"/><circle cx="120.5" cy="182.0" r="1.25"/><circle cx="122.5" cy="182.6" r="1.25"/><circle cx="127.9" cy="182.7" r="1.25"/><circle cx="115.4" cy="182.5" r="1.25"/><circle cx="132.3" cy="183.8" r="1.25"/><circle cx="121.8" cy="183.4" r="1.25"/><circle cx="134.9" cy="183.6" r="1.25"/><circle cx="123.2" cy="184.4" r="1.25"/><circle cx="127.3" cy="184.9" r="1.25"/><circle cx="130.4" cy="184.7" r="1.25"/><circle cx="118.9" cy="185.7" r="1.25"/><circle cx="121.6" cy="185.3" r="1.25"/><circle cx="132.0" cy="185.6" r="1.25"/><circle cx="130.6" cy="186.5" r="1.25"/><circle cx="139.5" cy="186.4" r="1.25"/><circle cx="132.6" cy="186.5" r="1.25"/><circle cx="125.2" cy="187.3" r="1.25"/><circle cx="132.5" cy="187.1" r="1.25"/><circle cx="140.2" cy="187.9" r="1.25"/><circle cx="127.4" cy="187.9" r="1.25"/><circle cx="132.2" cy="188.8" r="1.25"/><circle cx="141.9" cy="188.6" r="1.25"/><circle cx="140.7" cy="188.9" r="1.25"/><circle cx="138.0" cy="189.5" r="1.25"/><circle cx="136.1" cy="190.0" r="1.25"/><circle cx="130.4" cy="189.3" r="1.25"/><circle cx="144.7" cy="189.3" r="1.25"/><circle cx="136.8" cy="190.4" r="1.25"/><circle cx="128.9" cy="190.4" r="1.25"/><circle cx="129.5" cy="190.0" r="1.25"/><circle cx="114.1" cy="191.3" r="1.25"/><circle cx="131.8" cy="192.0" r="1.25"/><circle cx="133.0" cy="191.5" r="1.25"/><circle cx="138.0" cy="192.9" r="1.25"/><circle cx="135.3" cy="192.2" r="1.25"/><circle cx="125.9" cy="192.5" r="1.25"/><circle cx="137.5" cy="193.9" r="1.25"/><circle cx="132.2" cy="193.6" r="1.25"/><circle cx="133.9" cy="193.2" r="1.25"/><circle cx="130.5" cy="193.1" r="1.25"/><circle cx="144.9" cy="194.3" r="1.25"/><circle cx="124.0" cy="194.7" r="1.25"/><circle cx="126.7" cy="194.1" r="1.25"/><circle cx="116.4" cy="195.1" r="1.25"/><circle cx="129.0" cy="195.2" r="1.25"/><circle cx="144.2" cy="195.2" r="1.25"/><circle cx="126.9" cy="196.2" r="1.25"/><circle cx="122.3" cy="196.4" r="1.25"/><circle cx="141.5" cy="196.7" r="1.25"/><circle cx="127.0" cy="196.2" r="1.25"/><circle cx="131.6" cy="197.9" r="1.25"/><circle cx="129.2" cy="197.6" r="1.25"/><circle cx="142.3" cy="197.1" r="1.25"/><circle cx="133.6" cy="197.5" r="1.25"/><circle cx="129.7" cy="198.0" r="1.25"/><circle cx="131.2" cy="198.3" r="1.25"/><circle cx="140.5" cy="198.8" r="1.25"/><circle cx="138.7" cy="199.2" r="1.25"/><circle cx="130.8" cy="199.3" r="1.25"/><circle cx="134.3" cy="199.9" r="1.25"/><circle cx="123.4" cy="200.0" r="1.25"/><circle cx="139.1" cy="200.4" r="1.25"/><circle cx="131.5" cy="200.9" r="1.25"/><circle cx="136.8" cy="201.6" r="1.25"/><circle cx="129.3" cy="201.4" r="1.25"/><circle cx="125.4" cy="201.5" r="1.25"/><circle cx="133.7" cy="202.8" r="1.25"/><circle cx="128.9" cy="203.0" r="1.25"/><circle cx="138.0" cy="202.2" r="1.25"/><circle cx="133.1" cy="203.2" r="1.25"/><circle cx="139.8" cy="203.4" r="1.25"/><circle cx="124.4" cy="203.8" r="1.25"/><circle cx="140.3" cy="204.5" r="1.25"/><circle cx="148.6" cy="204.5" r="1.25"/><circle cx="128.0" cy="204.0" r="1.25"/><circle cx="131.4" cy="204.6" r="1.25"/><circle cx="139.7" cy="205.2" r="1.25"/><circle cx="140.2" cy="205.5" r="1.25"/><circle cx="133.2" cy="205.4" r="1.25"/><circle cx="141.5" cy="206.1" r="1.25"/><circle cx="130.8" cy="206.9" r="1.25"/><circle cx="135.6" cy="206.8" r="1.25"/><circle cx="139.1" cy="207.1" r="1.25"/><circle cx="142.2" cy="207.3" r="1.25"/><circle cx="134.1" cy="207.6" r="1.25"/><circle cx="139.2" cy="207.6" r="1.25"/><circle cx="143.8" cy="208.8" r="1.25"/><circle cx="145.9" cy="208.2" r="1.25"/><circle cx="147.7" cy="208.7" r="1.25"/><circle cx="128.2" cy="208.1" r="1.25"/><circle cx="84.1" cy="58.3" r="1.25"/><circle cx="122.3" cy="86.8" r="1.25"/><circle cx="114.4" cy="98.1" r="1.25"/><circle cx="92.2" cy="101.7" r="1.25"/><circle cx="106.7" cy="108.3" r="1.25"/><circle cx="91.1" cy="111.7" r="1.25"/><circle cx="102.2" cy="112.8" r="1.25"/><circle cx="112.1" cy="118.2" r="1.25"/><circle cx="109.1" cy="125.9" r="1.25"/><circle cx="60.8" cy="128.4" r="1.25"/><circle cx="105.2" cy="128.4" r="1.25"/><circle cx="114.6" cy="128.8" r="1.25"/><circle cx="120.6" cy="128.1" r="1.25"/><circle cx="128.5" cy="128.4" r="1.25"/><circle cx="116.0" cy="131.1" r="1.25"/><circle cx="100.1" cy="134.3" r="1.25"/><circle cx="106.7" cy="134.3" r="1.25"/><circle cx="110.8" cy="134.6" r="1.25"/><circle cx="116.0" cy="134.2" r="1.25"/><circle cx="117.0" cy="134.2" r="1.25"/><circle cx="99.7" cy="137.0" r="1.25"/><circle cx="108.7" cy="138.1" r="1.25"/><circle cx="114.6" cy="137.8" r="1.25"/><circle cx="117.4" cy="137.4" r="1.25"/><circle cx="101.5" cy="144.3" r="1.25"/><circle cx="103.8" cy="144.3" r="1.25"/><circle cx="110.5" cy="144.3" r="1.25"/><circle cx="116.0" cy="144.6" r="1.25"/><circle cx="99.5" cy="186.0" r="1.25"/><circle cx="101.2" cy="189.0" r="1.25"/><circle cx="91.6" cy="189.5" r="1.25"/><circle cx="135.4" cy="150.5" r="1.25"/><circle cx="135.8" cy="160.6" r="1.25"/><circle cx="138.4" cy="166.1" r="1.25"/><circle cx="112.0" cy="210.5" r="1.25"/></g>
<path d="M134.5,209.2 L133.8,202.0 L135.0,196.0 L137.0,190.4 L139.7,185.8 L142.3,188.4 L145.0,197.6 L149.6,201.5 L153.2,205.5 L154.3,209.2 Z" fill="#ec2027" stroke="#ec2027" stroke-width="1.5" stroke-linejoin="round"/>
<g fill="#ec3a33"><circle cx="136.5" cy="194.3" r="1.25"/><circle cx="143.6" cy="208.3" r="1.25"/><circle cx="133.0" cy="185.1" r="1.25"/><circle cx="142.3" cy="208.7" r="1.25"/><circle cx="133.1" cy="187.6" r="1.25"/><circle cx="140.5" cy="185.0" r="1.25"/><circle cx="139.9" cy="190.0" r="1.25"/><circle cx="136.9" cy="193.8" r="1.25"/><circle cx="137.1" cy="191.5" r="1.25"/><circle cx="139.6" cy="184.9" r="1.25"/><circle cx="142.4" cy="208.9" r="1.25"/><circle cx="132.8" cy="189.7" r="1.25"/><circle cx="136.0" cy="190.3" r="1.25"/><circle cx="137.3" cy="195.5" r="1.25"/><circle cx="139.4" cy="207.3" r="1.25"/><circle cx="144.3" cy="208.5" r="1.25"/><circle cx="142.7" cy="199.3" r="1.25"/><circle cx="140.4" cy="200.2" r="1.25"/><circle cx="135.9" cy="185.5" r="1.25"/><circle cx="145.5" cy="205.6" r="1.25"/><circle cx="142.0" cy="198.8" r="1.25"/><circle cx="135.6" cy="193.8" r="1.25"/><circle cx="136.4" cy="205.1" r="1.25"/><circle cx="142.7" cy="189.4" r="1.25"/><circle cx="140.0" cy="192.7" r="1.25"/><circle cx="142.7" cy="188.1" r="1.25"/><circle cx="139.4" cy="189.1" r="1.25"/><circle cx="142.1" cy="191.7" r="1.25"/><circle cx="143.3" cy="195.2" r="1.25"/><circle cx="140.8" cy="205.6" r="1.25"/><circle cx="137.5" cy="189.1" r="1.25"/><circle cx="140.7" cy="201.3" r="1.25"/><circle cx="138.1" cy="193.1" r="1.25"/><circle cx="139.3" cy="188.6" r="1.25"/><circle cx="132.2" cy="190.6" r="1.25"/><circle cx="144.9" cy="201.9" r="1.25"/><circle cx="137.1" cy="190.7" r="1.25"/><circle cx="143.1" cy="207.4" r="1.25"/><circle cx="138.7" cy="193.0" r="1.25"/><circle cx="135.8" cy="206.7" r="1.25"/><circle cx="137.4" cy="184.5" r="1.25"/><circle cx="141.9" cy="186.1" r="1.25"/><circle cx="138.4" cy="206.1" r="1.25"/><circle cx="143.9" cy="197.0" r="1.25"/><circle cx="136.8" cy="185.4" r="1.25"/><circle cx="140.5" cy="185.0" r="1.25"/><circle cx="137.9" cy="187.8" r="1.25"/><circle cx="137.8" cy="191.8" r="1.25"/><circle cx="136.2" cy="194.6" r="1.25"/><circle cx="139.4" cy="201.7" r="1.25"/><circle cx="137.6" cy="190.5" r="1.25"/><circle cx="133.5" cy="187.7" r="1.25"/><circle cx="137.5" cy="189.1" r="1.25"/><circle cx="143.5" cy="194.1" r="1.25"/><circle cx="139.8" cy="193.7" r="1.25"/><circle cx="136.5" cy="191.3" r="1.25"/><circle cx="138.4" cy="192.6" r="1.25"/><circle cx="139.9" cy="184.6" r="1.25"/><circle cx="133.5" cy="199.8" r="1.25"/><circle cx="139.3" cy="208.4" r="1.25"/><circle cx="134.6" cy="191.5" r="1.25"/><circle cx="131.6" cy="189.4" r="1.25"/><circle cx="135.4" cy="201.2" r="1.25"/><circle cx="133.5" cy="205.7" r="1.25"/><circle cx="137.4" cy="189.9" r="1.25"/><circle cx="136.9" cy="194.7" r="1.25"/><circle cx="141.3" cy="193.8" r="1.25"/><circle cx="139.5" cy="192.2" r="1.25"/><circle cx="138.0" cy="196.4" r="1.25"/><circle cx="140.1" cy="194.1" r="1.25"/><circle cx="140.8" cy="195.9" r="1.25"/><circle cx="142.9" cy="190.0" r="1.25"/><circle cx="136.8" cy="186.3" r="1.25"/><circle cx="141.7" cy="187.8" r="1.25"/><circle cx="137.7" cy="198.6" r="1.25"/><circle cx="135.6" cy="201.5" r="1.25"/><circle cx="136.4" cy="184.6" r="1.25"/><circle cx="141.0" cy="185.6" r="1.25"/><circle cx="141.9" cy="194.1" r="1.25"/><circle cx="140.4" cy="198.6" r="1.25"/><circle cx="137.0" cy="195.7" r="1.25"/><circle cx="141.3" cy="184.6" r="1.25"/><circle cx="141.7" cy="192.7" r="1.25"/><circle cx="135.6" cy="190.5" r="1.25"/><circle cx="141.2" cy="200.7" r="1.25"/><circle cx="142.9" cy="199.4" r="1.25"/><circle cx="138.7" cy="207.9" r="1.25"/><circle cx="145.1" cy="207.6" r="1.25"/><circle cx="137.0" cy="203.3" r="1.25"/><circle cx="134.6" cy="194.3" r="1.25"/><circle cx="137.0" cy="194.4" r="1.25"/><circle cx="147.6" cy="206.0" r="1.25"/><circle cx="139.0" cy="193.5" r="1.25"/><circle cx="138.2" cy="187.4" r="1.25"/><circle cx="137.3" cy="196.7" r="1.25"/><circle cx="144.9" cy="208.4" r="1.25"/><circle cx="139.6" cy="187.7" r="1.25"/><circle cx="142.1" cy="201.0" r="1.25"/><circle cx="142.9" cy="189.9" r="1.25"/><circle cx="138.1" cy="193.8" r="1.25"/><circle cx="133.4" cy="190.0" r="1.25"/><circle cx="139.0" cy="197.7" r="1.25"/><circle cx="133.2" cy="199.6" r="1.25"/><circle cx="139.3" cy="208.2" r="1.25"/><circle cx="134.1" cy="192.3" r="1.25"/><circle cx="144.3" cy="191.8" r="1.25"/><circle cx="138.2" cy="201.9" r="1.25"/><circle cx="136.7" cy="208.1" r="1.25"/><circle cx="143.4" cy="204.6" r="1.25"/><circle cx="142.5" cy="196.3" r="1.25"/></g>
<line x1="94.5" y1="159.9" x2="106" y2="162.6" stroke="#231f20" stroke-width="0.8"/>
<line x1="139.7" y1="175.3" x2="138.7" y2="189.7" stroke="#231f20" stroke-width="0.8"/>
<line x1="152.5" y1="182.8" x2="139.7" y2="193" stroke="#231f20" stroke-width="0.8"/>
<line x1="161.1" y1="191.0" x2="143.7" y2="196" stroke="#231f20" stroke-width="0.8"/>
<line x1="121.3" y1="197.5" x2="132.5" y2="196" stroke="#231f20" stroke-width="0.8"/>
<line x1="156.5" y1="199.8" x2="147.6" y2="202.9" stroke="#231f20" stroke-width="0.8"/>
<line x1="156.5" y1="205.5" x2="148.3" y2="203.8" stroke="#231f20" stroke-width="0.8"/>
<circle cx="107.6" cy="163.0" r="1.75" fill="#2b3f95" stroke="#111" stroke-width="0.6"/>
<circle cx="138.7" cy="191.2" r="1.75" fill="#2b3f95" stroke="#111" stroke-width="0.6"/>
<circle cx="133.8" cy="195.0" r="1.75" fill="#2b3f95" stroke="#111" stroke-width="0.6"/>
<circle cx="135.4" cy="195.6" r="1.75" fill="#2b3f95" stroke="#111" stroke-width="0.6"/>
<circle cx="142.3" cy="196.8" r="1.75" fill="#2b3f95" stroke="#111" stroke-width="0.6"/>
<circle cx="146.9" cy="203.8" r="1.75" fill="#2b3f95" stroke="#111" stroke-width="0.6"/>
<text x="76.7" y="158.2" font-size="8.6" font-weight="bold" font-style="italic" fill="#231f20">tssB</text>
<text x="138.3" y="173.9" font-size="8.6" font-weight="bold" font-style="italic" fill="#231f20">clpV</text>
<text x="152.8" y="182.0" font-size="8.6" font-weight="bold" font-style="italic" fill="#231f20">tssG</text>
<text x="162.9" y="190.0" font-size="8.6" font-weight="bold" font-style="italic" fill="#231f20">tssJ</text>
<text x="100.5" y="200.4" font-size="8.6" font-weight="bold" font-style="italic" fill="#231f20">tssK</text>
<text x="159.4" y="198.9" font-size="8.6" font-weight="bold" font-style="italic" fill="#231f20">tssK2</text>
<text x="159.4" y="206.6" font-size="8.6" font-weight="bold" font-style="italic" fill="#231f20">tssG2</text>
<line x1="51.4" y1="209.6" x2="249.6" y2="209.6" stroke="#231f20" stroke-width="0.9" stroke-dasharray="1 1"/>
</svg></body></html>
